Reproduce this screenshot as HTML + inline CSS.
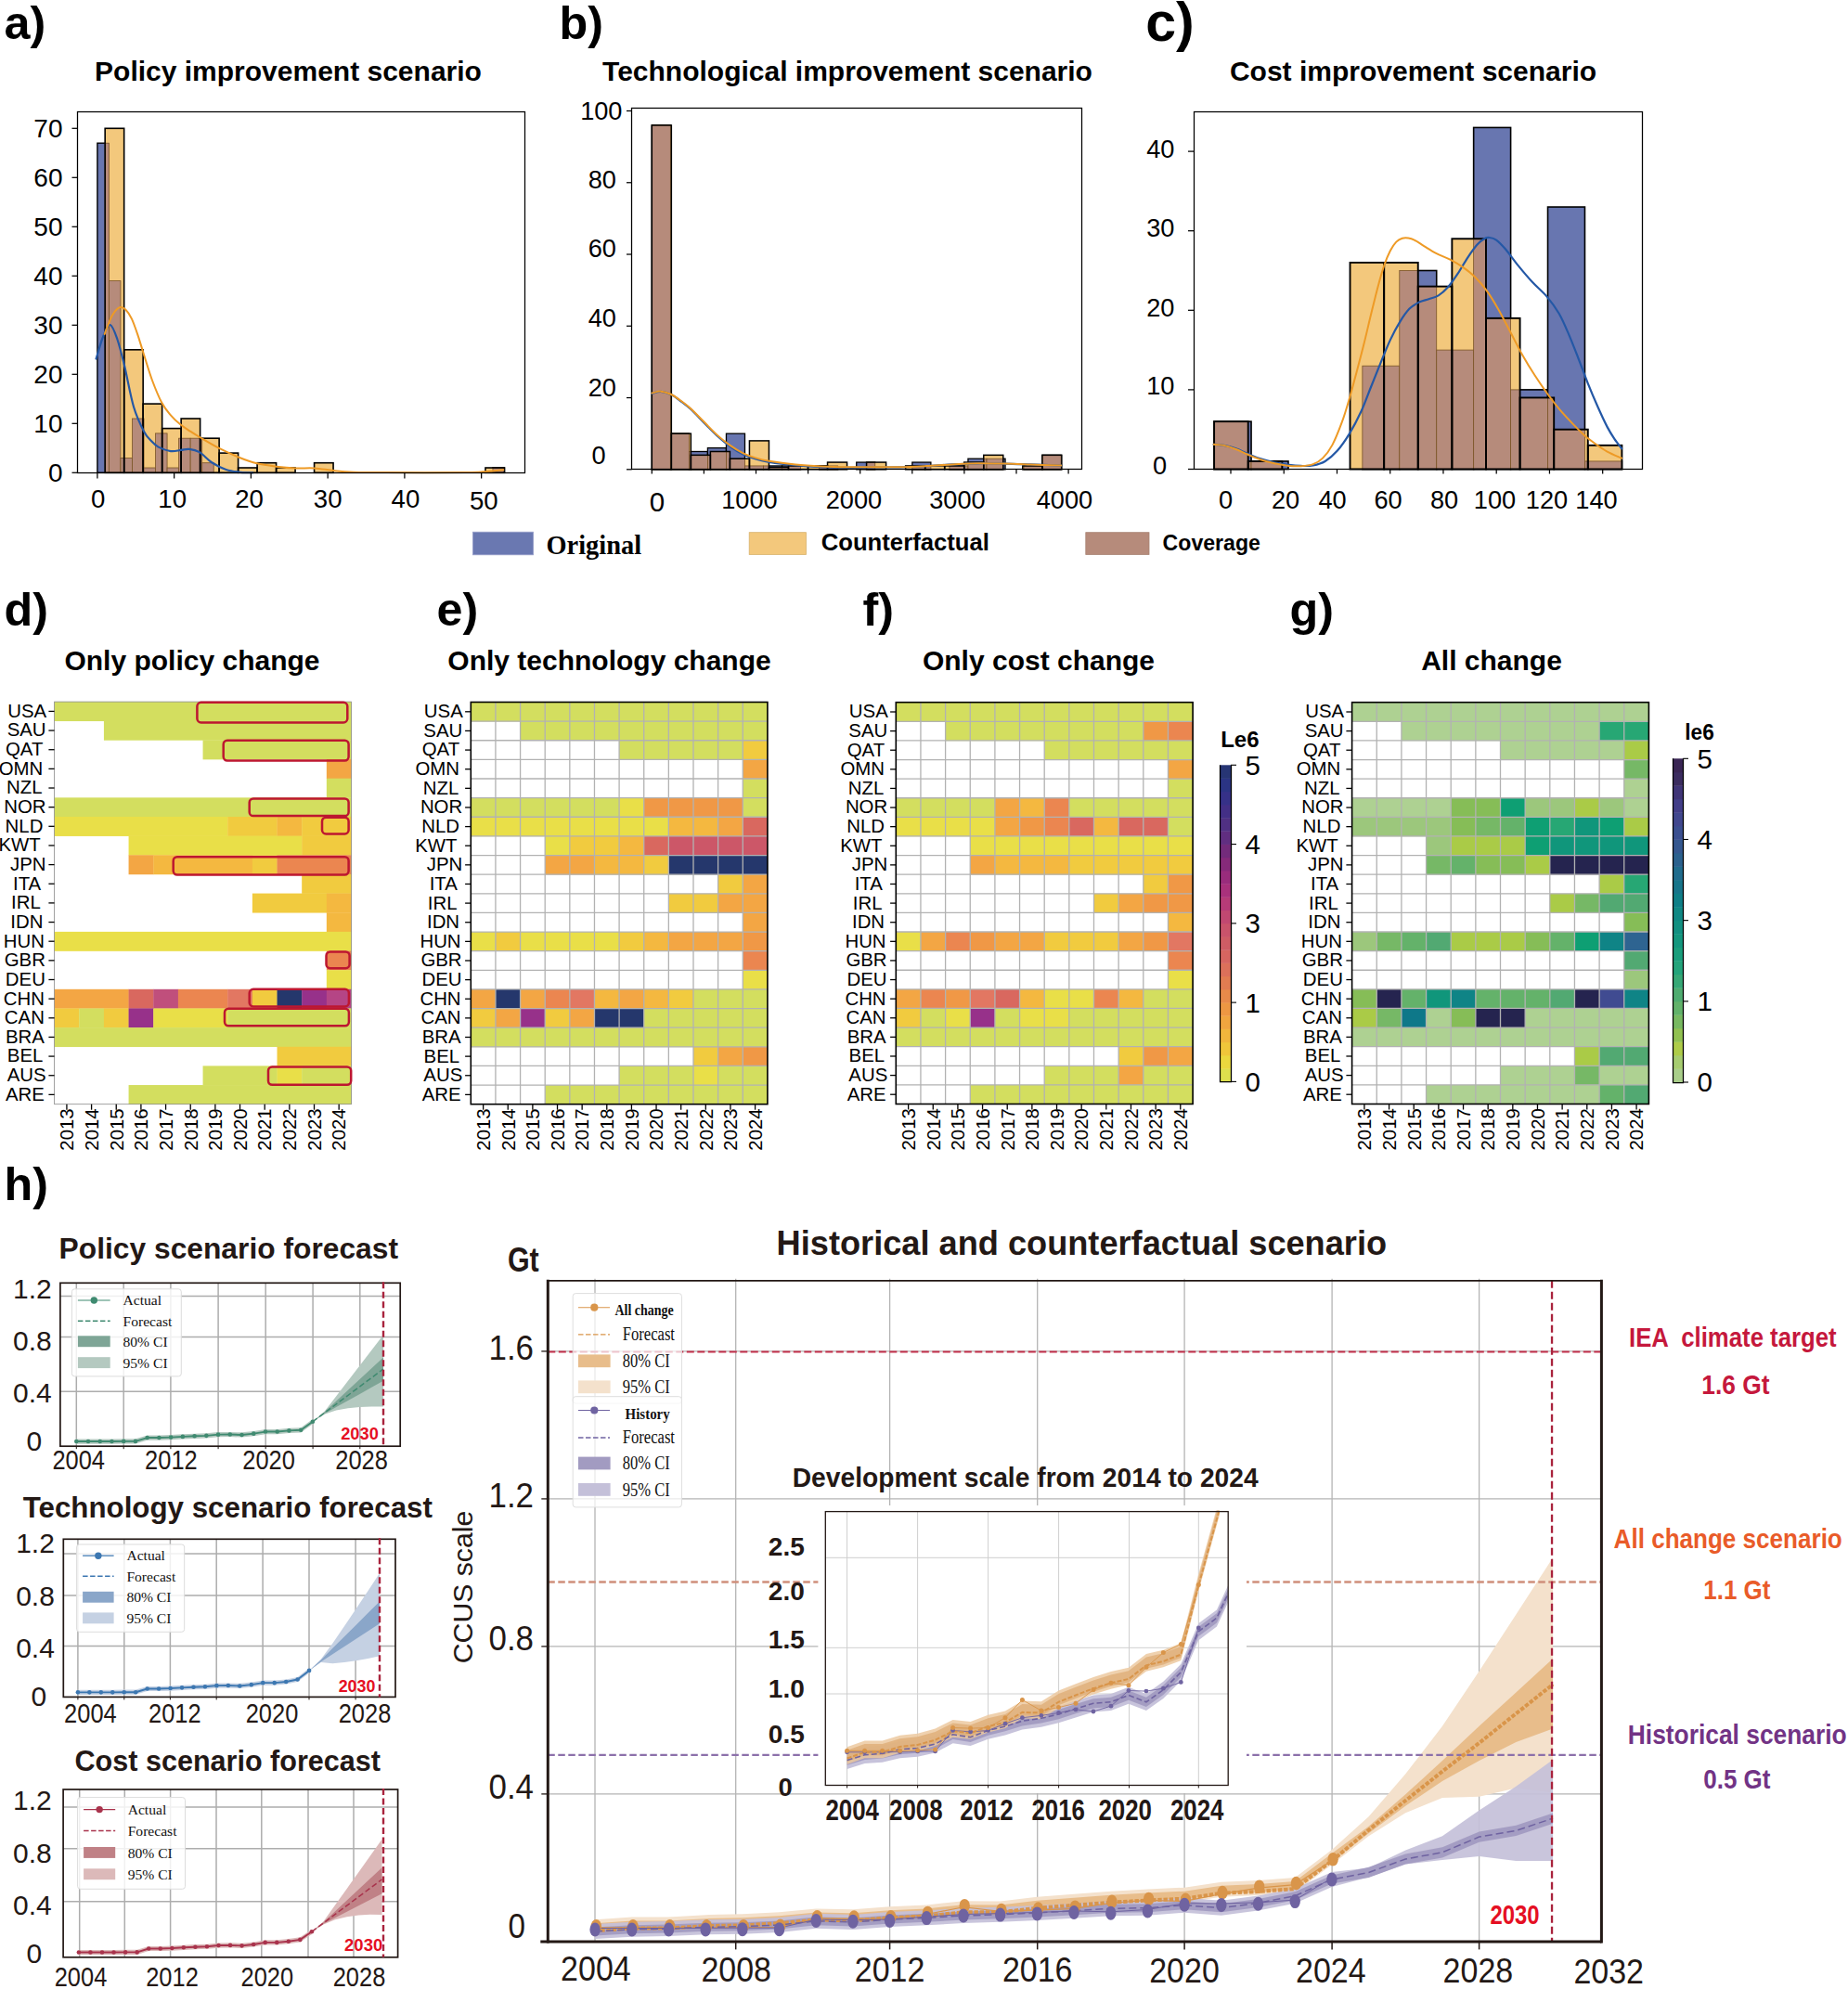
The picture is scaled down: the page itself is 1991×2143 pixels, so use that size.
<!DOCTYPE html>
<html lang="en"><head><meta charset="utf-8"><title>CCUS counterfactual scenarios</title>
<style>
html,body{margin:0;padding:0;background:#fff;}
body{width:1991px;height:2143px;overflow:hidden;}
svg{display:block;font-family:'Liberation Sans', Arial, Helvetica, sans-serif;}
</style></head><body>
<svg width="1991" height="2143" viewBox="0 0 1991 2143">
<rect width="1991" height="2143" fill="#fff"/>
<text x="4.6" y="41.5" font-size="50.3" font-weight="bold">a)</text>
<text x="602.6" y="41.5" font-size="50.3" font-weight="bold">b)</text>
<text x="1234.2" y="44.3" font-size="59" font-weight="bold">c)</text>
<text x="310.5" y="87" font-size="30" font-weight="bold" text-anchor="middle">Policy improvement scenario</text>
<text x="913" y="87" font-size="30" font-weight="bold" text-anchor="middle">Technological improvement scenario</text>
<text x="1522.5" y="87" font-size="30" font-weight="bold" text-anchor="middle">Cost improvement scenario</text>
<rect x="104.9" y="154.2" width="12.53" height="355.1" fill="#6876b0" stroke="#000" stroke-width="1.4"/>
<rect x="117.43" y="302.6" width="12.53" height="206.7" fill="#6876b0" stroke="#000" stroke-width="1.4"/>
<rect x="129.96" y="493.4" width="12.53" height="15.9" fill="#6876b0" stroke="#000" stroke-width="1.4"/>
<rect x="142.49" y="451" width="12.53" height="58.3" fill="#6876b0" stroke="#000" stroke-width="1.4"/>
<rect x="155.02" y="504" width="12.53" height="5.3" fill="#6876b0" stroke="#000" stroke-width="1.4"/>
<rect x="167.55" y="466.9" width="12.53" height="42.4" fill="#6876b0" stroke="#000" stroke-width="1.4"/>
<rect x="180.08" y="504" width="12.53" height="5.3" fill="#6876b0" stroke="#000" stroke-width="1.4"/>
<rect x="192.62" y="472.2" width="12.53" height="37.1" fill="#6876b0" stroke="#000" stroke-width="1.4"/>
<rect x="205.15" y="472.2" width="12.53" height="37.1" fill="#6876b0" stroke="#000" stroke-width="1.4"/>
<rect x="217.68" y="498.7" width="12.53" height="10.6" fill="#6876b0" stroke="#000" stroke-width="1.4"/>
<rect x="530.94" y="504" width="12.53" height="5.3" fill="#6876b0" stroke="#000" stroke-width="1.4"/>
<rect x="113.18" y="138.3" width="20.49" height="371" fill="#f3c87c"/>
<rect x="133.67" y="376.8" width="20.49" height="132.5" fill="#f3c87c"/>
<rect x="154.16" y="435.1" width="20.49" height="74.2" fill="#f3c87c"/>
<rect x="174.65" y="461.6" width="20.49" height="47.7" fill="#f3c87c"/>
<rect x="195.14" y="451" width="20.49" height="58.3" fill="#f3c87c"/>
<rect x="215.63" y="472.2" width="20.49" height="37.1" fill="#f3c87c"/>
<rect x="236.12" y="488.1" width="20.49" height="21.2" fill="#f3c87c"/>
<rect x="256.61" y="504" width="20.49" height="5.3" fill="#f3c87c"/>
<rect x="277.1" y="498.7" width="20.49" height="10.6" fill="#f3c87c"/>
<rect x="297.59" y="504" width="20.49" height="5.3" fill="#f3c87c"/>
<rect x="338.57" y="498.7" width="20.49" height="10.6" fill="#f3c87c"/>
<rect x="522.98" y="504" width="20.49" height="5.3" fill="#f3c87c"/>
<rect x="113.18" y="154.2" width="4.26" height="355.1" fill="#b68b7b" stroke="#7a5426" stroke-width="0.8"/>
<rect x="117.43" y="302.6" width="12.53" height="206.7" fill="#b68b7b" stroke="#7a5426" stroke-width="0.8"/>
<rect x="129.96" y="493.4" width="3.7" height="15.9" fill="#b68b7b" stroke="#7a5426" stroke-width="0.8"/>
<rect x="133.67" y="493.4" width="8.83" height="15.9" fill="#b68b7b" stroke="#7a5426" stroke-width="0.8"/>
<rect x="142.49" y="451" width="11.66" height="58.3" fill="#b68b7b" stroke="#7a5426" stroke-width="0.8"/>
<rect x="154.16" y="451" width="0.87" height="58.3" fill="#b68b7b" stroke="#7a5426" stroke-width="0.8"/>
<rect x="155.02" y="504" width="12.53" height="5.3" fill="#b68b7b" stroke="#7a5426" stroke-width="0.8"/>
<rect x="167.55" y="466.9" width="7.09" height="42.4" fill="#b68b7b" stroke="#7a5426" stroke-width="0.8"/>
<rect x="174.65" y="466.9" width="5.44" height="42.4" fill="#b68b7b" stroke="#7a5426" stroke-width="0.8"/>
<rect x="180.08" y="504" width="12.53" height="5.3" fill="#b68b7b" stroke="#7a5426" stroke-width="0.8"/>
<rect x="192.62" y="472.2" width="2.52" height="37.1" fill="#b68b7b" stroke="#7a5426" stroke-width="0.8"/>
<rect x="195.14" y="472.2" width="10.01" height="37.1" fill="#b68b7b" stroke="#7a5426" stroke-width="0.8"/>
<rect x="205.15" y="472.2" width="10.48" height="37.1" fill="#b68b7b" stroke="#7a5426" stroke-width="0.8"/>
<rect x="215.63" y="472.2" width="2.05" height="37.1" fill="#b68b7b" stroke="#7a5426" stroke-width="0.8"/>
<rect x="217.68" y="498.7" width="12.53" height="10.6" fill="#b68b7b" stroke="#7a5426" stroke-width="0.8"/>
<rect x="530.94" y="504" width="12.53" height="5.3" fill="#b68b7b" stroke="#7a5426" stroke-width="0.8"/>
<rect x="113.18" y="138.3" width="20.49" height="371" fill="none" stroke="#000" stroke-width="1.6"/>
<rect x="133.67" y="376.8" width="20.49" height="132.5" fill="none" stroke="#000" stroke-width="1.6"/>
<rect x="154.16" y="435.1" width="20.49" height="74.2" fill="none" stroke="#000" stroke-width="1.6"/>
<rect x="174.65" y="461.6" width="20.49" height="47.7" fill="none" stroke="#000" stroke-width="1.6"/>
<rect x="195.14" y="451" width="20.49" height="58.3" fill="none" stroke="#000" stroke-width="1.6"/>
<rect x="215.63" y="472.2" width="20.49" height="37.1" fill="none" stroke="#000" stroke-width="1.6"/>
<rect x="236.12" y="488.1" width="20.49" height="21.2" fill="none" stroke="#000" stroke-width="1.6"/>
<rect x="256.61" y="504" width="20.49" height="5.3" fill="none" stroke="#000" stroke-width="1.6"/>
<rect x="277.1" y="498.7" width="20.49" height="10.6" fill="none" stroke="#000" stroke-width="1.6"/>
<rect x="297.59" y="504" width="20.49" height="5.3" fill="none" stroke="#000" stroke-width="1.6"/>
<rect x="338.57" y="498.7" width="20.49" height="10.6" fill="none" stroke="#000" stroke-width="1.6"/>
<rect x="522.98" y="504" width="20.49" height="5.3" fill="none" stroke="#000" stroke-width="1.6"/>
<path d="M103.58 386.5 C104.8 382.63 108.38 369.36 110.88 363.27 C113.39 357.19 116.05 349.63 118.63 350 C121.21 350.37 123.79 358.11 126.37 365.49 C128.95 372.86 131.17 382.08 134.12 394.25 C137.06 406.42 140.57 426.7 144.07 438.5 C147.57 450.29 152 458.96 155.13 465.04 C158.27 471.13 160.29 472.23 162.88 475 C165.46 477.77 167.12 479.79 170.62 481.64 C174.12 483.48 179.84 485.51 183.89 486.06 C187.95 486.62 191.64 485.32 194.96 484.96 C198.27 484.59 200.49 483.48 203.81 483.85 C207.12 484.22 210.81 484.77 214.87 487.17 C218.92 489.56 223.35 495.1 228.14 498.23 C232.94 501.36 238.47 504.2 243.63 505.97 C248.79 507.74 254.32 508.3 259.12 508.85 C263.91 509.4 270.18 509.22 272.39 509.29" fill="none" stroke="#2458a6" stroke-width="2.2" stroke-linecap="round" />
<path d="M112.65 359.96 C114.02 356.64 118.11 344.84 120.84 340.04 C123.57 335.25 126.63 332.3 129.03 331.19 C131.42 330.09 133.08 331.38 135.22 333.41 C137.36 335.44 139.65 338.75 141.86 343.36 C144.07 347.97 146.36 354.79 148.5 361.06 C150.63 367.33 152.11 372.86 154.69 380.97 C157.27 389.09 160.7 400.88 163.98 409.73 C167.26 418.58 171.06 427.8 174.38 434.07 C177.7 440.34 180.58 443.47 183.89 447.35 C187.21 451.22 190.79 454.42 194.29 457.3 C197.79 460.18 201.37 462.28 204.91 464.6 C208.45 466.92 210.26 468.14 215.53 471.24 C220.8 474.34 229.58 479.61 236.55 483.19 C243.52 486.76 250.63 490.01 257.35 492.7 C264.06 495.39 270.07 497.68 276.81 499.34 C283.56 501 290.9 501.81 297.83 502.65 C304.76 503.5 311.59 504.13 318.41 504.42 C325.23 504.72 331.87 503.98 338.76 504.42 C345.66 504.87 352.77 506.38 359.78 507.08 C366.78 507.78 371.76 508.3 380.8 508.63 C389.83 508.96 393.7 509 413.98 509.07 C434.26 509.14 484.04 509.26 502.48 509.07 C520.91 508.89 517.96 508.44 524.6 507.96 C531.24 507.49 539.35 506.49 542.3 506.19" fill="none" stroke="#ee9a25" stroke-width="2" stroke-linecap="round" />
<rect x="83.5" y="120.5" width="482" height="389" fill="none" stroke="#000" stroke-width="1.25"/>
<line x1="104.9" y1="509.3" x2="104.9" y2="515.5" stroke="#000" stroke-width="1.25"/>
<text x="105.6" y="547.3" font-size="27.6" text-anchor="middle">0</text>
<line x1="187.65" y1="509.3" x2="187.65" y2="515.5" stroke="#000" stroke-width="1.25"/>
<text x="185.65" y="547.3" font-size="27.6" text-anchor="middle">10</text>
<line x1="270.4" y1="509.3" x2="270.4" y2="515.5" stroke="#000" stroke-width="1.25"/>
<text x="268.6" y="547.3" font-size="27.6" text-anchor="middle">20</text>
<line x1="353.15" y1="509.3" x2="353.15" y2="515.5" stroke="#000" stroke-width="1.25"/>
<text x="353.15" y="547.3" font-size="27.6" text-anchor="middle">30</text>
<line x1="435.9" y1="509.3" x2="435.9" y2="515.5" stroke="#000" stroke-width="1.25"/>
<text x="436.9" y="547.3" font-size="27.6" text-anchor="middle">40</text>
<line x1="518.65" y1="509.3" x2="518.65" y2="515.5" stroke="#000" stroke-width="1.25"/>
<text x="521.25" y="549.3" font-size="27.6" text-anchor="middle">50</text>
<line x1="77.5" y1="509.3" x2="83.5" y2="509.3" stroke="#000" stroke-width="1.25"/>
<text x="67.5" y="518.9" font-size="28" text-anchor="end">0</text>
<line x1="77.5" y1="456.3" x2="83.5" y2="456.3" stroke="#000" stroke-width="1.25"/>
<text x="67.5" y="465.9" font-size="28" text-anchor="end">10</text>
<line x1="77.5" y1="403.3" x2="83.5" y2="403.3" stroke="#000" stroke-width="1.25"/>
<text x="67.5" y="412.9" font-size="28" text-anchor="end">20</text>
<line x1="77.5" y1="350.3" x2="83.5" y2="350.3" stroke="#000" stroke-width="1.25"/>
<text x="67.5" y="359.9" font-size="28" text-anchor="end">30</text>
<line x1="77.5" y1="297.3" x2="83.5" y2="297.3" stroke="#000" stroke-width="1.25"/>
<text x="67.5" y="306.9" font-size="28" text-anchor="end">40</text>
<line x1="77.5" y1="244.3" x2="83.5" y2="244.3" stroke="#000" stroke-width="1.25"/>
<text x="67.5" y="253.9" font-size="28" text-anchor="end">50</text>
<line x1="77.5" y1="191.3" x2="83.5" y2="191.3" stroke="#000" stroke-width="1.25"/>
<text x="67.5" y="200.9" font-size="28" text-anchor="end">60</text>
<line x1="77.5" y1="138.3" x2="83.5" y2="138.3" stroke="#000" stroke-width="1.25"/>
<text x="67.5" y="147.9" font-size="28" text-anchor="end">70</text>
<rect x="702.3" y="134.95" width="20.04" height="370.85" fill="#6876b0" stroke="#000" stroke-width="1.3"/>
<rect x="722.34" y="467.17" width="20.04" height="38.63" fill="#6876b0" stroke="#000" stroke-width="1.3"/>
<rect x="742.38" y="486.49" width="20.04" height="19.31" fill="#6876b0" stroke="#000" stroke-width="1.3"/>
<rect x="762.42" y="482.62" width="20.04" height="23.18" fill="#6876b0" stroke="#000" stroke-width="1.3"/>
<rect x="782.46" y="467.17" width="20.04" height="38.63" fill="#6876b0" stroke="#000" stroke-width="1.3"/>
<rect x="802.49" y="501.94" width="20.04" height="3.86" fill="#6876b0" stroke="#000" stroke-width="1.3"/>
<rect x="822.53" y="501.94" width="20.04" height="3.86" fill="#6876b0" stroke="#000" stroke-width="1.3"/>
<rect x="842.57" y="501.94" width="20.04" height="3.86" fill="#6876b0" stroke="#000" stroke-width="1.3"/>
<rect x="882.65" y="501.94" width="20.04" height="3.86" fill="#6876b0" stroke="#000" stroke-width="1.3"/>
<rect x="922.73" y="498.07" width="20.04" height="7.73" fill="#6876b0" stroke="#000" stroke-width="1.3"/>
<rect x="982.84" y="498.07" width="20.04" height="7.73" fill="#6876b0" stroke="#000" stroke-width="1.3"/>
<rect x="1022.92" y="501.94" width="20.04" height="3.86" fill="#6876b0" stroke="#000" stroke-width="1.3"/>
<rect x="1042.96" y="494.21" width="20.04" height="11.59" fill="#6876b0" stroke="#000" stroke-width="1.3"/>
<rect x="1063" y="494.21" width="20.04" height="11.59" fill="#6876b0" stroke="#000" stroke-width="1.3"/>
<rect x="1103.08" y="501.94" width="20.04" height="3.86" fill="#6876b0" stroke="#000" stroke-width="1.3"/>
<rect x="1123.12" y="490.35" width="20.04" height="15.45" fill="#6876b0" stroke="#000" stroke-width="1.3"/>
<rect x="702.3" y="134.95" width="21.03" height="370.85" fill="#f3c87c"/>
<rect x="723.33" y="467.17" width="21.03" height="38.63" fill="#f3c87c"/>
<rect x="744.35" y="490.35" width="21.03" height="15.45" fill="#f3c87c"/>
<rect x="765.38" y="486.49" width="21.03" height="19.31" fill="#f3c87c"/>
<rect x="786.41" y="494.21" width="21.03" height="11.59" fill="#f3c87c"/>
<rect x="807.43" y="474.9" width="21.03" height="30.9" fill="#f3c87c"/>
<rect x="828.46" y="503.48" width="21.03" height="2.32" fill="#f3c87c"/>
<rect x="849.48" y="501.94" width="21.03" height="3.86" fill="#f3c87c"/>
<rect x="870.51" y="501.94" width="21.03" height="3.86" fill="#f3c87c"/>
<rect x="891.54" y="498.07" width="21.03" height="7.73" fill="#f3c87c"/>
<rect x="933.59" y="498.07" width="21.03" height="7.73" fill="#f3c87c"/>
<rect x="975.64" y="501.94" width="21.03" height="3.86" fill="#f3c87c"/>
<rect x="996.67" y="501.94" width="21.03" height="3.86" fill="#f3c87c"/>
<rect x="1017.69" y="501.94" width="21.03" height="3.86" fill="#f3c87c"/>
<rect x="1038.72" y="498.07" width="21.03" height="7.73" fill="#f3c87c"/>
<rect x="1059.75" y="490.35" width="21.03" height="15.45" fill="#f3c87c"/>
<rect x="1101.8" y="501.94" width="21.03" height="3.86" fill="#f3c87c"/>
<rect x="1122.83" y="490.35" width="21.03" height="15.45" fill="#f3c87c"/>
<rect x="702.3" y="134.95" width="20.04" height="370.85" fill="#b68b7b" stroke="#7a5426" stroke-width="0.8"/>
<rect x="722.34" y="467.17" width="0.99" height="38.63" fill="#b68b7b" stroke="#7a5426" stroke-width="0.8"/>
<rect x="723.33" y="467.17" width="19.05" height="38.63" fill="#b68b7b" stroke="#7a5426" stroke-width="0.8"/>
<rect x="742.38" y="486.49" width="1.97" height="19.31" fill="#b68b7b" stroke="#7a5426" stroke-width="0.8"/>
<rect x="744.35" y="490.35" width="18.06" height="15.45" fill="#b68b7b" stroke="#7a5426" stroke-width="0.8"/>
<rect x="762.42" y="490.35" width="2.96" height="15.45" fill="#b68b7b" stroke="#7a5426" stroke-width="0.8"/>
<rect x="765.38" y="486.49" width="17.08" height="19.31" fill="#b68b7b" stroke="#7a5426" stroke-width="0.8"/>
<rect x="782.46" y="486.49" width="3.95" height="19.31" fill="#b68b7b" stroke="#7a5426" stroke-width="0.8"/>
<rect x="786.41" y="494.21" width="16.09" height="11.59" fill="#b68b7b" stroke="#7a5426" stroke-width="0.8"/>
<rect x="802.49" y="501.94" width="4.94" height="3.86" fill="#b68b7b" stroke="#7a5426" stroke-width="0.8"/>
<rect x="807.43" y="501.94" width="15.1" height="3.86" fill="#b68b7b" stroke="#7a5426" stroke-width="0.8"/>
<rect x="822.53" y="501.94" width="5.92" height="3.86" fill="#b68b7b" stroke="#7a5426" stroke-width="0.8"/>
<rect x="828.46" y="503.48" width="14.11" height="2.32" fill="#b68b7b" stroke="#7a5426" stroke-width="0.8"/>
<rect x="842.57" y="503.48" width="6.91" height="2.32" fill="#b68b7b" stroke="#7a5426" stroke-width="0.8"/>
<rect x="849.48" y="501.94" width="13.13" height="3.86" fill="#b68b7b" stroke="#7a5426" stroke-width="0.8"/>
<rect x="882.65" y="501.94" width="8.89" height="3.86" fill="#b68b7b" stroke="#7a5426" stroke-width="0.8"/>
<rect x="891.54" y="501.94" width="11.15" height="3.86" fill="#b68b7b" stroke="#7a5426" stroke-width="0.8"/>
<rect x="933.59" y="498.07" width="9.18" height="7.73" fill="#b68b7b" stroke="#7a5426" stroke-width="0.8"/>
<rect x="982.84" y="501.94" width="13.82" height="3.86" fill="#b68b7b" stroke="#7a5426" stroke-width="0.8"/>
<rect x="996.67" y="501.94" width="6.22" height="3.86" fill="#b68b7b" stroke="#7a5426" stroke-width="0.8"/>
<rect x="1022.92" y="501.94" width="15.8" height="3.86" fill="#b68b7b" stroke="#7a5426" stroke-width="0.8"/>
<rect x="1038.72" y="501.94" width="4.24" height="3.86" fill="#b68b7b" stroke="#7a5426" stroke-width="0.8"/>
<rect x="1042.96" y="498.07" width="16.79" height="7.73" fill="#b68b7b" stroke="#7a5426" stroke-width="0.8"/>
<rect x="1059.75" y="494.21" width="3.25" height="11.59" fill="#b68b7b" stroke="#7a5426" stroke-width="0.8"/>
<rect x="1063" y="494.21" width="17.77" height="11.59" fill="#b68b7b" stroke="#7a5426" stroke-width="0.8"/>
<rect x="1103.08" y="501.94" width="19.75" height="3.86" fill="#b68b7b" stroke="#7a5426" stroke-width="0.8"/>
<rect x="1122.83" y="501.94" width="0.29" height="3.86" fill="#b68b7b" stroke="#7a5426" stroke-width="0.8"/>
<rect x="1123.12" y="490.35" width="20.04" height="15.45" fill="#b68b7b" stroke="#7a5426" stroke-width="0.8"/>
<rect x="702.3" y="134.95" width="21.03" height="370.85" fill="none" stroke="#000" stroke-width="1.5"/>
<rect x="723.33" y="467.17" width="21.03" height="38.63" fill="none" stroke="#000" stroke-width="1.5"/>
<rect x="744.35" y="490.35" width="21.03" height="15.45" fill="none" stroke="#000" stroke-width="1.5"/>
<rect x="765.38" y="486.49" width="21.03" height="19.31" fill="none" stroke="#000" stroke-width="1.5"/>
<rect x="786.41" y="494.21" width="21.03" height="11.59" fill="none" stroke="#000" stroke-width="1.5"/>
<rect x="807.43" y="474.9" width="21.03" height="30.9" fill="none" stroke="#000" stroke-width="1.5"/>
<rect x="828.46" y="503.48" width="21.03" height="2.32" fill="none" stroke="#000" stroke-width="1.5"/>
<rect x="849.48" y="501.94" width="21.03" height="3.86" fill="none" stroke="#000" stroke-width="1.5"/>
<rect x="870.51" y="501.94" width="21.03" height="3.86" fill="none" stroke="#000" stroke-width="1.5"/>
<rect x="891.54" y="498.07" width="21.03" height="7.73" fill="none" stroke="#000" stroke-width="1.5"/>
<rect x="933.59" y="498.07" width="21.03" height="7.73" fill="none" stroke="#000" stroke-width="1.5"/>
<rect x="975.64" y="501.94" width="21.03" height="3.86" fill="none" stroke="#000" stroke-width="1.5"/>
<rect x="996.67" y="501.94" width="21.03" height="3.86" fill="none" stroke="#000" stroke-width="1.5"/>
<rect x="1017.69" y="501.94" width="21.03" height="3.86" fill="none" stroke="#000" stroke-width="1.5"/>
<rect x="1038.72" y="498.07" width="21.03" height="7.73" fill="none" stroke="#000" stroke-width="1.5"/>
<rect x="1059.75" y="490.35" width="21.03" height="15.45" fill="none" stroke="#000" stroke-width="1.5"/>
<rect x="1101.8" y="501.94" width="21.03" height="3.86" fill="none" stroke="#000" stroke-width="1.5"/>
<rect x="1122.83" y="490.35" width="21.03" height="15.45" fill="none" stroke="#000" stroke-width="1.5"/>
<path d="M702.21 423.89 C703.85 423.57 708.54 421.69 712.05 421.92 C715.57 422.16 719.79 423.61 723.31 425.3 C726.83 426.99 729.64 429.43 733.16 432.05 C736.67 434.68 740.19 437.17 744.41 441.06 C748.63 444.95 753.79 450.67 758.48 455.41 C763.17 460.14 767.86 465.21 772.55 469.48 C777.24 473.74 781.93 477.68 786.62 481.01 C791.31 484.34 796.09 487.2 800.69 489.45 C805.28 491.71 809.5 493.11 814.19 494.52 C818.88 495.93 821.7 496.77 828.82 497.9 C835.95 499.02 847.58 500.38 856.96 501.27 C866.34 502.16 875.72 502.82 885.1 503.24 C894.48 503.66 903.86 503.76 913.24 503.8 C922.61 503.85 931.99 503.59 941.37 503.52 C950.75 503.45 960.13 503.59 969.51 503.38 C978.89 503.17 988.27 502.75 997.65 502.26 C1007.03 501.76 1016.41 500.92 1025.79 500.43 C1035.16 499.94 1044.54 499.44 1053.92 499.3 C1063.3 499.16 1072.68 499.4 1082.06 499.58 C1091.44 499.77 1100.02 500.1 1110.2 500.43 C1120.37 500.76 1137.63 501.37 1143.12 501.55" fill="none" stroke="#2458a6" stroke-width="2.2" stroke-linecap="round" />
<path d="M702.21 423.61 C703.85 423.28 708.54 421.41 712.05 421.64 C715.57 421.88 719.79 423.38 723.31 425.02 C726.83 426.66 729.64 428.91 733.16 431.49 C736.67 434.07 740.19 436.65 744.41 440.5 C748.63 444.34 753.79 449.87 758.48 454.56 C763.17 459.25 767.86 464.41 772.55 468.63 C777.24 472.85 781.93 476.6 786.62 479.89 C791.31 483.17 796.09 486.08 800.69 488.33 C805.28 490.58 809.5 491.99 814.19 493.39 C818.88 494.8 821.7 495.6 828.82 496.77 C835.95 497.94 847.58 499.49 856.96 500.43 C866.34 501.37 875.72 501.93 885.1 502.4 C894.48 502.87 903.86 503.1 913.24 503.24 C922.61 503.38 931.99 503.24 941.37 503.24 C950.75 503.24 960.13 503.43 969.51 503.24 C978.89 503.05 988.27 502.58 997.65 502.12 C1007.03 501.65 1016.41 500.9 1025.79 500.43 C1035.16 499.96 1044.54 499.44 1053.92 499.3 C1063.3 499.16 1072.68 499.4 1082.06 499.58 C1091.44 499.77 1100.02 500.1 1110.2 500.43 C1120.37 500.76 1137.63 501.37 1143.12 501.55" fill="none" stroke="#ee9a25" stroke-width="2" stroke-linecap="round" />
<rect x="680.5" y="116.5" width="485" height="389" fill="none" stroke="#000" stroke-width="1.25"/>
<line x1="702.3" y1="505.8" x2="702.3" y2="510.5" stroke="#000" stroke-width="1.25"/>
<line x1="758.4" y1="505.8" x2="758.4" y2="510.5" stroke="#000" stroke-width="1.25"/>
<line x1="814.5" y1="505.8" x2="814.5" y2="510.5" stroke="#000" stroke-width="1.25"/>
<line x1="870.6" y1="505.8" x2="870.6" y2="510.5" stroke="#000" stroke-width="1.25"/>
<line x1="926.7" y1="505.8" x2="926.7" y2="510.5" stroke="#000" stroke-width="1.25"/>
<line x1="982.8" y1="505.8" x2="982.8" y2="510.5" stroke="#000" stroke-width="1.25"/>
<line x1="1038.9" y1="505.8" x2="1038.9" y2="510.5" stroke="#000" stroke-width="1.25"/>
<line x1="1095" y1="505.8" x2="1095" y2="510.5" stroke="#000" stroke-width="1.25"/>
<line x1="1151.1" y1="505.8" x2="1151.1" y2="510.5" stroke="#000" stroke-width="1.25"/>
<text x="708" y="551" font-size="29.5" text-anchor="middle">0</text>
<text x="807.5" y="547.5" font-size="27.2" text-anchor="middle">1000</text>
<text x="920" y="547.5" font-size="27.2" text-anchor="middle">2000</text>
<text x="1031.5" y="547.5" font-size="27.2" text-anchor="middle">3000</text>
<text x="1147" y="547.5" font-size="27.2" text-anchor="middle">4000</text>
<line x1="675" y1="119.5" x2="680.5" y2="119.5" stroke="#000" stroke-width="1.25"/>
<text x="670.5" y="128.8" font-size="27.2" text-anchor="end">100</text>
<line x1="675" y1="196.76" x2="680.5" y2="196.76" stroke="#000" stroke-width="1.25"/>
<text x="664" y="202.9" font-size="27.2" text-anchor="end">80</text>
<line x1="675" y1="274.02" x2="680.5" y2="274.02" stroke="#000" stroke-width="1.25"/>
<text x="664" y="276.6" font-size="27.2" text-anchor="end">60</text>
<line x1="675" y1="351.28" x2="680.5" y2="351.28" stroke="#000" stroke-width="1.25"/>
<text x="664" y="352.1" font-size="27.2" text-anchor="end">40</text>
<line x1="675" y1="428.54" x2="680.5" y2="428.54" stroke="#000" stroke-width="1.25"/>
<text x="664" y="426.8" font-size="27.2" text-anchor="end">20</text>
<line x1="675" y1="505.8" x2="680.5" y2="505.8" stroke="#000" stroke-width="1.25"/>
<text x="652.5" y="499.9" font-size="27.2" text-anchor="end">0</text>
<rect x="1308.1" y="454.14" width="39.94" height="51.36" fill="#6876b0" stroke="#000" stroke-width="1.6"/>
<rect x="1348.04" y="496.94" width="39.94" height="8.56" fill="#6876b0" stroke="#000" stroke-width="1.6"/>
<rect x="1467.85" y="394.22" width="39.94" height="111.28" fill="#6876b0" stroke="#000" stroke-width="1.6"/>
<rect x="1507.78" y="291.5" width="39.94" height="214" fill="#6876b0" stroke="#000" stroke-width="1.6"/>
<rect x="1547.72" y="377.1" width="39.94" height="128.4" fill="#6876b0" stroke="#000" stroke-width="1.6"/>
<rect x="1587.65" y="137.42" width="39.94" height="368.08" fill="#6876b0" stroke="#000" stroke-width="1.6"/>
<rect x="1627.59" y="419.9" width="39.94" height="85.6" fill="#6876b0" stroke="#000" stroke-width="1.6"/>
<rect x="1667.53" y="223.02" width="39.94" height="282.48" fill="#6876b0" stroke="#000" stroke-width="1.6"/>
<rect x="1707.46" y="496.94" width="39.94" height="8.56" fill="#6876b0" stroke="#000" stroke-width="1.6"/>
<rect x="1308.1" y="454.14" width="36.61" height="51.36" fill="#f3c87c"/>
<rect x="1344.71" y="496.94" width="36.61" height="8.56" fill="#f3c87c"/>
<rect x="1454.53" y="282.94" width="36.61" height="222.56" fill="#f3c87c"/>
<rect x="1491.14" y="282.94" width="36.61" height="222.56" fill="#f3c87c"/>
<rect x="1527.75" y="308.62" width="36.61" height="196.88" fill="#f3c87c"/>
<rect x="1564.36" y="257.26" width="36.61" height="248.24" fill="#f3c87c"/>
<rect x="1600.97" y="342.86" width="36.61" height="162.64" fill="#f3c87c"/>
<rect x="1637.58" y="428.46" width="36.61" height="77.04" fill="#f3c87c"/>
<rect x="1674.18" y="462.7" width="36.61" height="42.8" fill="#f3c87c"/>
<rect x="1710.79" y="479.82" width="36.61" height="25.68" fill="#f3c87c"/>
<rect x="1308.1" y="454.14" width="36.61" height="51.36" fill="#b68b7b" stroke="#7a5426" stroke-width="0.8"/>
<rect x="1344.71" y="496.94" width="3.33" height="8.56" fill="#b68b7b" stroke="#7a5426" stroke-width="0.8"/>
<rect x="1348.04" y="496.94" width="33.28" height="8.56" fill="#b68b7b" stroke="#7a5426" stroke-width="0.8"/>
<rect x="1467.85" y="394.22" width="23.3" height="111.28" fill="#b68b7b" stroke="#7a5426" stroke-width="0.8"/>
<rect x="1491.14" y="394.22" width="16.64" height="111.28" fill="#b68b7b" stroke="#7a5426" stroke-width="0.8"/>
<rect x="1507.78" y="291.5" width="19.97" height="214" fill="#b68b7b" stroke="#7a5426" stroke-width="0.8"/>
<rect x="1527.75" y="308.62" width="19.97" height="196.88" fill="#b68b7b" stroke="#7a5426" stroke-width="0.8"/>
<rect x="1547.72" y="377.1" width="16.64" height="128.4" fill="#b68b7b" stroke="#7a5426" stroke-width="0.8"/>
<rect x="1564.36" y="377.1" width="23.3" height="128.4" fill="#b68b7b" stroke="#7a5426" stroke-width="0.8"/>
<rect x="1587.65" y="257.26" width="13.31" height="248.24" fill="#b68b7b" stroke="#7a5426" stroke-width="0.8"/>
<rect x="1600.97" y="342.86" width="26.62" height="162.64" fill="#b68b7b" stroke="#7a5426" stroke-width="0.8"/>
<rect x="1627.59" y="419.9" width="9.98" height="85.6" fill="#b68b7b" stroke="#7a5426" stroke-width="0.8"/>
<rect x="1637.57" y="428.46" width="29.95" height="77.04" fill="#b68b7b" stroke="#7a5426" stroke-width="0.8"/>
<rect x="1667.53" y="428.46" width="6.66" height="77.04" fill="#b68b7b" stroke="#7a5426" stroke-width="0.8"/>
<rect x="1674.18" y="462.7" width="33.28" height="42.8" fill="#b68b7b" stroke="#7a5426" stroke-width="0.8"/>
<rect x="1707.46" y="496.94" width="3.33" height="8.56" fill="#b68b7b" stroke="#7a5426" stroke-width="0.8"/>
<rect x="1710.79" y="496.94" width="36.61" height="8.56" fill="#b68b7b" stroke="#7a5426" stroke-width="0.8"/>
<rect x="1308.1" y="454.14" width="36.61" height="51.36" fill="none" stroke="#000" stroke-width="1.9"/>
<rect x="1344.71" y="496.94" width="36.61" height="8.56" fill="none" stroke="#000" stroke-width="1.9"/>
<rect x="1454.53" y="282.94" width="36.61" height="222.56" fill="none" stroke="#000" stroke-width="1.9"/>
<rect x="1491.14" y="282.94" width="36.61" height="222.56" fill="none" stroke="#000" stroke-width="1.9"/>
<rect x="1527.75" y="308.62" width="36.61" height="196.88" fill="none" stroke="#000" stroke-width="1.9"/>
<rect x="1564.36" y="257.26" width="36.61" height="248.24" fill="none" stroke="#000" stroke-width="1.9"/>
<rect x="1600.97" y="342.86" width="36.61" height="162.64" fill="none" stroke="#000" stroke-width="1.9"/>
<rect x="1637.58" y="428.46" width="36.61" height="77.04" fill="none" stroke="#000" stroke-width="1.9"/>
<rect x="1674.18" y="462.7" width="36.61" height="42.8" fill="none" stroke="#000" stroke-width="1.9"/>
<rect x="1710.79" y="479.82" width="36.61" height="25.68" fill="none" stroke="#000" stroke-width="1.9"/>
<path d="M1307.66 478.83 C1309.48 479 1314.59 479.13 1318.57 479.87 C1322.55 480.61 1327.23 481.73 1331.56 483.25 C1335.89 484.76 1340.22 487.14 1344.55 488.96 C1348.87 490.78 1352.77 492.6 1357.53 494.16 C1362.29 495.71 1367.92 497.19 1373.12 498.31 C1378.31 499.44 1383.94 500.3 1388.7 500.91 C1393.46 501.52 1397.36 501.86 1401.69 501.95 C1406.02 502.03 1410.35 502.25 1414.68 501.43 C1419 500.61 1423.33 499.61 1427.66 497.01 C1431.99 494.42 1436.32 490.74 1440.65 485.84 C1444.98 480.95 1449.31 474.81 1453.64 467.66 C1457.97 460.52 1462.73 451.43 1466.62 442.99 C1470.52 434.55 1473.55 425.67 1477.01 417.01 C1480.48 408.35 1483.94 399.48 1487.4 391.04 C1490.87 382.6 1494.33 373.72 1497.79 366.36 C1501.26 359 1504.72 352.51 1508.18 346.88 C1511.65 341.26 1515.11 336.15 1518.57 332.6 C1522.03 329.05 1525.5 327.32 1528.96 325.58 C1532.42 323.85 1535.89 323.42 1539.35 322.21 C1542.81 321 1546.28 320.48 1549.74 318.31 C1553.2 316.15 1556.67 313.12 1560.13 309.22 C1563.59 305.32 1567.06 300.13 1570.52 294.94 C1573.98 289.74 1577.45 283.25 1580.91 278.05 C1584.37 272.86 1588.27 267.23 1591.3 263.77 C1594.33 260.3 1596.84 258.57 1599.09 257.27 C1601.34 255.97 1602.64 255.76 1604.81 255.97 C1606.97 256.19 1609.13 256.41 1612.08 258.57 C1615.02 260.74 1618.57 264.42 1622.47 268.96 C1626.36 273.51 1630.69 280 1635.45 285.84 C1640.22 291.69 1645.84 298.4 1651.04 304.03 C1656.23 309.65 1661.86 313.98 1666.62 319.61 C1671.39 325.24 1675.71 331.08 1679.61 337.79 C1683.51 344.5 1686.54 351.86 1690 359.87 C1693.46 367.88 1696.93 376.97 1700.39 385.84 C1703.85 394.72 1707.32 404.46 1710.78 413.12 C1714.24 421.77 1717.71 430 1721.17 437.79 C1724.63 445.58 1728.53 454.03 1731.56 459.87 C1734.59 465.71 1736.75 468.96 1739.35 472.86 C1741.95 476.75 1745.84 481.52 1747.14 483.25" fill="none" stroke="#2458a6" stroke-width="2.2" stroke-linecap="round" />
<path d="M1307.66 478.83 C1309.48 479 1314.59 479 1318.57 479.87 C1322.55 480.74 1327.23 482.38 1331.56 484.03 C1335.89 485.67 1340.22 487.92 1344.55 489.74 C1348.87 491.56 1352.77 493.33 1357.53 494.94 C1362.29 496.54 1367.92 498.18 1373.12 499.35 C1378.31 500.52 1383.94 501.47 1388.7 501.95 C1393.46 502.42 1397.36 502.51 1401.69 502.21 C1406.02 501.9 1410.78 501.56 1414.68 500.13 C1418.57 498.7 1421.6 497.1 1425.06 493.64 C1428.53 490.17 1431.99 485.84 1435.45 479.35 C1438.92 472.86 1442.81 462.9 1445.84 454.68 C1448.87 446.45 1451.04 438.87 1453.64 430 C1456.23 421.13 1458.83 411.17 1461.43 401.43 C1464.03 391.69 1466.62 381.95 1469.22 371.56 C1471.82 361.17 1474.42 349.7 1477.01 339.09 C1479.61 328.48 1482.42 316.8 1484.81 307.92 C1487.19 299.05 1489.13 292.12 1491.3 285.84 C1493.46 279.57 1495.63 274.46 1497.79 270.26 C1499.96 266.06 1502.12 262.9 1504.29 260.65 C1506.45 258.4 1508.61 257.45 1510.78 256.75 C1512.94 256.06 1515.11 256.19 1517.27 256.49 C1519.44 256.8 1520.95 257.14 1523.77 258.57 C1526.58 260 1530.26 262.68 1534.16 265.06 C1538.05 267.45 1542.38 270.39 1547.14 272.86 C1551.9 275.32 1557.97 277.4 1562.73 279.87 C1567.49 282.34 1571.39 284.63 1575.71 287.66 C1580.04 290.69 1584.37 293.81 1588.7 298.05 C1593.03 302.29 1597.36 307.14 1601.69 313.12 C1606.02 319.09 1610.35 326.32 1614.68 333.9 C1619 341.47 1623.33 350.35 1627.66 358.57 C1631.99 366.8 1636.32 375.58 1640.65 383.25 C1644.98 390.91 1649.31 397.84 1653.64 404.55 C1657.97 411.26 1662.29 417.53 1666.62 423.51 C1670.95 429.48 1675.28 435.19 1679.61 440.39 C1683.94 445.58 1688.27 450.13 1692.6 454.68 C1696.93 459.22 1701.26 463.77 1705.58 467.66 C1709.91 471.56 1714.24 474.89 1718.57 478.05 C1722.9 481.21 1726.8 484.03 1731.56 486.62 C1736.32 489.22 1744.55 492.47 1747.14 493.64" fill="none" stroke="#ee9a25" stroke-width="2" stroke-linecap="round" />
<rect x="1286.5" y="120.5" width="483" height="385" fill="none" stroke="#000" stroke-width="1.25"/>
<line x1="1326" y1="505.5" x2="1326" y2="510.5" stroke="#000" stroke-width="1.25"/>
<text x="1320.5" y="547.5" font-size="27.2" text-anchor="middle">0</text>
<line x1="1383.24" y1="505.5" x2="1383.24" y2="510.5" stroke="#000" stroke-width="1.25"/>
<text x="1385" y="547.5" font-size="27.2" text-anchor="middle">20</text>
<line x1="1440.48" y1="505.5" x2="1440.48" y2="510.5" stroke="#000" stroke-width="1.25"/>
<text x="1435.5" y="547.5" font-size="27.2" text-anchor="middle">40</text>
<line x1="1497.72" y1="505.5" x2="1497.72" y2="510.5" stroke="#000" stroke-width="1.25"/>
<text x="1495.5" y="547.5" font-size="27.2" text-anchor="middle">60</text>
<line x1="1554.96" y1="505.5" x2="1554.96" y2="510.5" stroke="#000" stroke-width="1.25"/>
<text x="1556" y="547.5" font-size="27.2" text-anchor="middle">80</text>
<line x1="1612.2" y1="505.5" x2="1612.2" y2="510.5" stroke="#000" stroke-width="1.25"/>
<text x="1610.5" y="547.5" font-size="27.2" text-anchor="middle">100</text>
<line x1="1669.44" y1="505.5" x2="1669.44" y2="510.5" stroke="#000" stroke-width="1.25"/>
<text x="1666.5" y="547.5" font-size="27.2" text-anchor="middle">120</text>
<line x1="1726.68" y1="505.5" x2="1726.68" y2="510.5" stroke="#000" stroke-width="1.25"/>
<text x="1720" y="547.5" font-size="27.2" text-anchor="middle">140</text>
<line x1="1280" y1="163.1" x2="1286" y2="163.1" stroke="#000" stroke-width="1.25"/>
<text x="1265.5" y="169.7" font-size="27.2" text-anchor="end">40</text>
<line x1="1280" y1="248.7" x2="1286" y2="248.7" stroke="#000" stroke-width="1.25"/>
<text x="1265.5" y="255.1" font-size="27.2" text-anchor="end">30</text>
<line x1="1280" y1="334.3" x2="1286" y2="334.3" stroke="#000" stroke-width="1.25"/>
<text x="1265.5" y="341" font-size="27.2" text-anchor="end">20</text>
<line x1="1280" y1="419.9" x2="1286" y2="419.9" stroke="#000" stroke-width="1.25"/>
<text x="1265.5" y="424.8" font-size="27.2" text-anchor="end">10</text>
<line x1="1280" y1="505.5" x2="1286" y2="505.5" stroke="#000" stroke-width="1.25"/>
<text x="1257" y="510.9" font-size="27.2" text-anchor="end">0</text>
<rect x="509.4" y="573.2" width="65.2" height="24.6" fill="#6a78b1" stroke="#959dc8" stroke-width="0.8"/>
<text x="588.5" y="597" font-size="28.4" font-weight="bold" font-family='"Liberation Serif", "Times New Roman", serif'>Original</text>
<rect x="807.2" y="573.7" width="61.3" height="23.8" fill="#f3c87c" stroke="#d8b26e" stroke-width="0.8"/>
<text x="884.7" y="592.8" font-size="25.7" font-weight="bold">Counterfactual</text>
<rect x="1169.8" y="573.7" width="68.2" height="23.8" fill="#b68b7b" stroke="#a88374" stroke-width="0.8"/>
<text x="1252.6" y="592.6" font-size="23.1" font-weight="bold">Coverage</text>
<text x="4.6" y="674" font-size="50.3" font-weight="bold">d)</text>
<text x="470.6" y="674" font-size="50.3" font-weight="bold">e)</text>
<text x="929.6" y="674" font-size="50.3" font-weight="bold">f)</text>
<text x="1389.6" y="674" font-size="50.3" font-weight="bold">g)</text>
<text x="207" y="722.3" font-size="30" font-weight="bold" text-anchor="middle">Only policy change</text>
<text x="656.5" y="722.3" font-size="30" font-weight="bold" text-anchor="middle">Only technology change</text>
<text x="1119" y="722.3" font-size="30" font-weight="bold" text-anchor="middle">Only cost change</text>
<text x="1607" y="722.3" font-size="30" font-weight="bold" text-anchor="middle">All change</text>
<rect x="58.6" y="756.1" width="320.2" height="20.95" fill="#d3de5f"/>
<rect x="111.92" y="776.75" width="266.88" height="20.95" fill="#d3de5f"/>
<rect x="218.55" y="797.4" width="160.25" height="20.95" fill="#d3de5f"/>
<rect x="351.84" y="818.04" width="26.96" height="20.95" fill="#f3a644"/>
<rect x="351.84" y="838.69" width="26.96" height="20.95" fill="#d3de5f"/>
<rect x="58.6" y="859.34" width="320.2" height="20.95" fill="#d3de5f"/>
<rect x="58.6" y="879.99" width="186.91" height="20.95" fill="#e9df48"/>
<rect x="245.21" y="879.99" width="53.62" height="20.95" fill="#f1cb3f"/>
<rect x="298.52" y="879.99" width="26.96" height="20.95" fill="#f4b840"/>
<rect x="325.18" y="879.99" width="53.62" height="20.95" fill="#f1cb3f"/>
<rect x="138.57" y="900.63" width="186.91" height="20.95" fill="#e9df48"/>
<rect x="325.18" y="900.63" width="53.62" height="20.95" fill="#f1cb3f"/>
<rect x="138.57" y="921.28" width="26.96" height="20.95" fill="#f3a644"/>
<rect x="165.23" y="921.28" width="106.93" height="20.95" fill="#f4b840"/>
<rect x="271.87" y="921.28" width="26.96" height="20.95" fill="#f1cb3f"/>
<rect x="298.52" y="921.28" width="80.27" height="20.95" fill="#eb8650"/>
<rect x="325.18" y="941.93" width="53.62" height="20.95" fill="#f1cb3f"/>
<rect x="271.87" y="962.58" width="80.27" height="20.95" fill="#f1cb3f"/>
<rect x="351.84" y="962.58" width="26.96" height="20.95" fill="#f4b840"/>
<rect x="351.84" y="983.22" width="26.96" height="20.95" fill="#f4b840"/>
<rect x="58.6" y="1003.87" width="320.2" height="20.95" fill="#e9df48"/>
<rect x="351.84" y="1024.52" width="26.96" height="20.95" fill="#eb8650"/>
<rect x="351.84" y="1045.17" width="26.96" height="20.95" fill="#e9df48"/>
<rect x="58.6" y="1065.81" width="80.27" height="20.95" fill="#f3a644"/>
<rect x="138.57" y="1065.81" width="26.96" height="20.95" fill="#d9685f"/>
<rect x="165.23" y="1065.81" width="26.96" height="20.95" fill="#c04f7c"/>
<rect x="191.89" y="1065.81" width="53.62" height="20.95" fill="#eb8650"/>
<rect x="245.21" y="1065.81" width="26.96" height="20.95" fill="#e27762"/>
<rect x="271.87" y="1065.81" width="26.96" height="20.95" fill="#f1cb3f"/>
<rect x="298.52" y="1065.81" width="26.96" height="20.95" fill="#25376c"/>
<rect x="325.18" y="1065.81" width="26.96" height="20.95" fill="#97318a"/>
<rect x="351.84" y="1065.81" width="26.96" height="20.95" fill="#b54585"/>
<rect x="58.6" y="1086.46" width="26.96" height="20.95" fill="#f1cb3f"/>
<rect x="85.26" y="1086.46" width="26.96" height="20.95" fill="#d3de5f"/>
<rect x="111.92" y="1086.46" width="26.96" height="20.95" fill="#f1cb3f"/>
<rect x="138.57" y="1086.46" width="26.96" height="20.95" fill="#97318a"/>
<rect x="165.23" y="1086.46" width="80.27" height="20.95" fill="#e9df48"/>
<rect x="245.21" y="1086.46" width="133.59" height="20.95" fill="#d3de5f"/>
<rect x="58.6" y="1107.11" width="320.2" height="20.95" fill="#d3de5f"/>
<rect x="298.52" y="1127.76" width="80.27" height="20.95" fill="#f1cb3f"/>
<rect x="218.55" y="1148.4" width="80.27" height="20.95" fill="#d3de5f"/>
<rect x="298.52" y="1148.4" width="26.96" height="20.95" fill="#e9df48"/>
<rect x="325.18" y="1148.4" width="53.62" height="20.95" fill="#d3de5f"/>
<rect x="138.57" y="1169.05" width="240.22" height="20.95" fill="#d3de5f"/>
<rect x="58.6" y="756.1" width="319.9" height="433.6" fill="none" stroke="#8a8a8a" stroke-width="0.8"/>
<line x1="52.4" y1="766.42" x2="58.6" y2="766.42" stroke="#000" stroke-width="1.3"/>
<text x="50.1" y="772.82" font-size="20.4" text-anchor="end">USA</text>
<line x1="52.4" y1="787.07" x2="58.6" y2="787.07" stroke="#000" stroke-width="1.3"/>
<text x="49.6" y="793.47" font-size="20.4" text-anchor="end">SAU</text>
<line x1="52.4" y1="807.72" x2="58.6" y2="807.72" stroke="#000" stroke-width="1.3"/>
<text x="46.4" y="814.12" font-size="20.4" text-anchor="end">QAT</text>
<line x1="52.4" y1="828.37" x2="58.6" y2="828.37" stroke="#000" stroke-width="1.3"/>
<text x="46.3" y="834.77" font-size="20.4" text-anchor="end">OMN</text>
<line x1="52.4" y1="849.01" x2="58.6" y2="849.01" stroke="#000" stroke-width="1.3"/>
<text x="45.6" y="855.41" font-size="20.4" text-anchor="end">NZL</text>
<line x1="52.4" y1="869.66" x2="58.6" y2="869.66" stroke="#000" stroke-width="1.3"/>
<text x="49.5" y="876.06" font-size="20.4" text-anchor="end">NOR</text>
<line x1="52.4" y1="890.31" x2="58.6" y2="890.31" stroke="#000" stroke-width="1.3"/>
<text x="46.4" y="896.71" font-size="20.4" text-anchor="end">NLD</text>
<line x1="52.4" y1="910.96" x2="58.6" y2="910.96" stroke="#000" stroke-width="1.3"/>
<text x="43.8" y="917.36" font-size="20.4" text-anchor="end">KWT</text>
<line x1="52.4" y1="931.6" x2="58.6" y2="931.6" stroke="#000" stroke-width="1.3"/>
<text x="49.6" y="938" font-size="20.4" text-anchor="end">JPN</text>
<line x1="52.4" y1="952.25" x2="58.6" y2="952.25" stroke="#000" stroke-width="1.3"/>
<text x="44.2" y="958.65" font-size="20.4" text-anchor="end">ITA</text>
<line x1="52.4" y1="972.9" x2="58.6" y2="972.9" stroke="#000" stroke-width="1.3"/>
<text x="43.8" y="979.3" font-size="20.4" text-anchor="end">IRL</text>
<line x1="52.4" y1="993.55" x2="58.6" y2="993.55" stroke="#000" stroke-width="1.3"/>
<text x="46.4" y="999.95" font-size="20.4" text-anchor="end">IDN</text>
<line x1="52.4" y1="1014.2" x2="58.6" y2="1014.2" stroke="#000" stroke-width="1.3"/>
<text x="47.9" y="1020.6" font-size="20.4" text-anchor="end">HUN</text>
<line x1="52.4" y1="1034.84" x2="58.6" y2="1034.84" stroke="#000" stroke-width="1.3"/>
<text x="48.9" y="1041.24" font-size="20.4" text-anchor="end">GBR</text>
<line x1="52.4" y1="1055.49" x2="58.6" y2="1055.49" stroke="#000" stroke-width="1.3"/>
<text x="48.9" y="1061.89" font-size="20.4" text-anchor="end">DEU</text>
<line x1="52.4" y1="1076.14" x2="58.6" y2="1076.14" stroke="#000" stroke-width="1.3"/>
<text x="47.9" y="1082.54" font-size="20.4" text-anchor="end">CHN</text>
<line x1="52.4" y1="1096.79" x2="58.6" y2="1096.79" stroke="#000" stroke-width="1.3"/>
<text x="47.9" y="1103.19" font-size="20.4" text-anchor="end">CAN</text>
<line x1="52.4" y1="1117.43" x2="58.6" y2="1117.43" stroke="#000" stroke-width="1.3"/>
<text x="47.9" y="1123.83" font-size="20.4" text-anchor="end">BRA</text>
<line x1="52.4" y1="1138.08" x2="58.6" y2="1138.08" stroke="#000" stroke-width="1.3"/>
<text x="46.4" y="1144.48" font-size="20.4" text-anchor="end">BEL</text>
<line x1="52.4" y1="1158.73" x2="58.6" y2="1158.73" stroke="#000" stroke-width="1.3"/>
<text x="49.6" y="1165.13" font-size="20.4" text-anchor="end">AUS</text>
<line x1="52.4" y1="1179.38" x2="58.6" y2="1179.38" stroke="#000" stroke-width="1.3"/>
<text x="47.9" y="1185.78" font-size="20.4" text-anchor="end">ARE</text>
<line x1="71.93" y1="1189.7" x2="71.93" y2="1195.7" stroke="#000" stroke-width="1.3"/>
<text x="79.23" y="1239.7" font-size="20.4" transform="rotate(-90 79.23 1239.7)">2013</text>
<line x1="98.59" y1="1189.7" x2="98.59" y2="1195.7" stroke="#000" stroke-width="1.3"/>
<text x="105.89" y="1239.7" font-size="20.4" transform="rotate(-90 105.89 1239.7)">2014</text>
<line x1="125.25" y1="1189.7" x2="125.25" y2="1195.7" stroke="#000" stroke-width="1.3"/>
<text x="132.55" y="1239.7" font-size="20.4" transform="rotate(-90 132.55 1239.7)">2015</text>
<line x1="151.9" y1="1189.7" x2="151.9" y2="1195.7" stroke="#000" stroke-width="1.3"/>
<text x="159.2" y="1239.7" font-size="20.4" transform="rotate(-90 159.2 1239.7)">2016</text>
<line x1="178.56" y1="1189.7" x2="178.56" y2="1195.7" stroke="#000" stroke-width="1.3"/>
<text x="185.86" y="1239.7" font-size="20.4" transform="rotate(-90 185.86 1239.7)">2017</text>
<line x1="205.22" y1="1189.7" x2="205.22" y2="1195.7" stroke="#000" stroke-width="1.3"/>
<text x="212.52" y="1239.7" font-size="20.4" transform="rotate(-90 212.52 1239.7)">2018</text>
<line x1="231.88" y1="1189.7" x2="231.88" y2="1195.7" stroke="#000" stroke-width="1.3"/>
<text x="239.18" y="1239.7" font-size="20.4" transform="rotate(-90 239.18 1239.7)">2019</text>
<line x1="258.54" y1="1189.7" x2="258.54" y2="1195.7" stroke="#000" stroke-width="1.3"/>
<text x="265.84" y="1239.7" font-size="20.4" transform="rotate(-90 265.84 1239.7)">2020</text>
<line x1="285.2" y1="1189.7" x2="285.2" y2="1195.7" stroke="#000" stroke-width="1.3"/>
<text x="292.5" y="1239.7" font-size="20.4" transform="rotate(-90 292.5 1239.7)">2021</text>
<line x1="311.85" y1="1189.7" x2="311.85" y2="1195.7" stroke="#000" stroke-width="1.3"/>
<text x="319.15" y="1239.7" font-size="20.4" transform="rotate(-90 319.15 1239.7)">2022</text>
<line x1="338.51" y1="1189.7" x2="338.51" y2="1195.7" stroke="#000" stroke-width="1.3"/>
<text x="345.81" y="1239.7" font-size="20.4" transform="rotate(-90 345.81 1239.7)">2023</text>
<line x1="365.17" y1="1189.7" x2="365.17" y2="1195.7" stroke="#000" stroke-width="1.3"/>
<text x="372.47" y="1239.7" font-size="20.4" transform="rotate(-90 372.47 1239.7)">2024</text>
<rect x="212.4" y="756.8" width="161.9" height="21.6" fill="none" stroke="#bd1730" stroke-width="2.5" rx="4.2"/>
<rect x="240.7" y="797.7" width="134.9" height="21.8" fill="none" stroke="#bd1730" stroke-width="2.5" rx="4.2"/>
<rect x="268.7" y="860.4" width="106.9" height="18.7" fill="none" stroke="#bd1730" stroke-width="2.5" rx="4.2"/>
<rect x="347" y="880.7" width="28.6" height="17.7" fill="none" stroke="#bd1730" stroke-width="2.5" rx="4.2"/>
<rect x="186.7" y="923.2" width="188.9" height="19.3" fill="none" stroke="#bd1730" stroke-width="2.5" rx="4.2"/>
<rect x="351.5" y="1025.5" width="25.1" height="17.7" fill="none" stroke="#bd1730" stroke-width="2.5" rx="4.2"/>
<rect x="268.7" y="1065.8" width="107.2" height="18.6" fill="none" stroke="#bd1730" stroke-width="2.5" rx="4.2"/>
<rect x="242" y="1086.7" width="133.9" height="18.6" fill="none" stroke="#bd1730" stroke-width="2.5" rx="4.2"/>
<rect x="289" y="1149.4" width="89.2" height="19.4" fill="none" stroke="#bd1730" stroke-width="2.5" rx="4.2"/>
<rect x="507.3" y="756.5" width="319.9" height="20.93" fill="#d3de5f"/>
<rect x="560.57" y="777.13" width="266.63" height="20.93" fill="#d3de5f"/>
<rect x="667.1" y="797.76" width="133.47" height="20.93" fill="#d3de5f"/>
<rect x="800.27" y="797.76" width="26.93" height="20.93" fill="#f1cb3f"/>
<rect x="800.27" y="818.39" width="26.93" height="20.93" fill="#f3a644"/>
<rect x="800.27" y="839.01" width="26.93" height="20.93" fill="#d3de5f"/>
<rect x="507.3" y="859.64" width="160.1" height="20.93" fill="#d3de5f"/>
<rect x="667.1" y="859.64" width="26.93" height="20.93" fill="#e9df48"/>
<rect x="693.73" y="859.64" width="106.83" height="20.93" fill="#f09846"/>
<rect x="800.27" y="859.64" width="26.93" height="20.93" fill="#d3de5f"/>
<rect x="507.3" y="880.27" width="213.37" height="20.93" fill="#e9df48"/>
<rect x="720.37" y="880.27" width="53.57" height="20.93" fill="#f4b840"/>
<rect x="773.63" y="880.27" width="26.93" height="20.93" fill="#f3a644"/>
<rect x="800.27" y="880.27" width="26.93" height="20.93" fill="#d9685f"/>
<rect x="587.2" y="900.9" width="26.93" height="20.93" fill="#e9df48"/>
<rect x="613.83" y="900.9" width="53.57" height="20.93" fill="#f1cb3f"/>
<rect x="667.1" y="900.9" width="26.93" height="20.93" fill="#f4b840"/>
<rect x="693.73" y="900.9" width="26.93" height="20.93" fill="#d9685f"/>
<rect x="720.37" y="900.9" width="106.83" height="20.93" fill="#cc5768"/>
<rect x="587.2" y="921.53" width="53.57" height="20.93" fill="#f3a644"/>
<rect x="640.47" y="921.53" width="53.57" height="20.93" fill="#f4b840"/>
<rect x="693.73" y="921.53" width="26.93" height="20.93" fill="#f1cb3f"/>
<rect x="720.37" y="921.53" width="106.83" height="20.93" fill="#25376c"/>
<rect x="773.63" y="942.16" width="26.93" height="20.93" fill="#f1cb3f"/>
<rect x="800.27" y="942.16" width="26.93" height="20.93" fill="#f3a644"/>
<rect x="720.37" y="962.79" width="53.57" height="20.93" fill="#f1cb3f"/>
<rect x="773.63" y="962.79" width="53.57" height="20.93" fill="#f3a644"/>
<rect x="800.27" y="983.41" width="26.93" height="20.93" fill="#f3a644"/>
<rect x="507.3" y="1004.04" width="26.93" height="20.93" fill="#e9df48"/>
<rect x="533.93" y="1004.04" width="26.93" height="20.93" fill="#f1cb3f"/>
<rect x="560.57" y="1004.04" width="106.83" height="20.93" fill="#e9df48"/>
<rect x="667.1" y="1004.04" width="26.93" height="20.93" fill="#f1cb3f"/>
<rect x="693.73" y="1004.04" width="26.93" height="20.93" fill="#f4b840"/>
<rect x="720.37" y="1004.04" width="80.2" height="20.93" fill="#f3a644"/>
<rect x="800.27" y="1004.04" width="26.93" height="20.93" fill="#f09846"/>
<rect x="800.27" y="1024.67" width="26.93" height="20.93" fill="#eb8650"/>
<rect x="800.27" y="1045.3" width="26.93" height="20.93" fill="#e9df48"/>
<rect x="507.3" y="1065.93" width="26.93" height="20.93" fill="#f3a644"/>
<rect x="533.93" y="1065.93" width="26.93" height="20.93" fill="#25376c"/>
<rect x="560.57" y="1065.93" width="26.93" height="20.93" fill="#f3a644"/>
<rect x="587.2" y="1065.93" width="26.93" height="20.93" fill="#eb8650"/>
<rect x="613.83" y="1065.93" width="26.93" height="20.93" fill="#e27762"/>
<rect x="640.47" y="1065.93" width="26.93" height="20.93" fill="#f4b840"/>
<rect x="667.1" y="1065.93" width="26.93" height="20.93" fill="#f3a644"/>
<rect x="693.73" y="1065.93" width="26.93" height="20.93" fill="#f4b840"/>
<rect x="720.37" y="1065.93" width="26.93" height="20.93" fill="#f1cb3f"/>
<rect x="747" y="1065.93" width="80.2" height="20.93" fill="#d3de5f"/>
<rect x="507.3" y="1086.56" width="26.93" height="20.93" fill="#f1cb3f"/>
<rect x="533.93" y="1086.56" width="26.93" height="20.93" fill="#f3a644"/>
<rect x="560.57" y="1086.56" width="26.93" height="20.93" fill="#97318a"/>
<rect x="587.2" y="1086.56" width="26.93" height="20.93" fill="#f1cb3f"/>
<rect x="613.83" y="1086.56" width="26.93" height="20.93" fill="#f3a644"/>
<rect x="640.47" y="1086.56" width="53.57" height="20.93" fill="#25376c"/>
<rect x="693.73" y="1086.56" width="133.47" height="20.93" fill="#d3de5f"/>
<rect x="507.3" y="1107.19" width="319.9" height="20.93" fill="#d3de5f"/>
<rect x="747" y="1127.81" width="26.93" height="20.93" fill="#f1cb3f"/>
<rect x="773.63" y="1127.81" width="26.93" height="20.93" fill="#f3a644"/>
<rect x="800.27" y="1127.81" width="26.93" height="20.93" fill="#f09846"/>
<rect x="667.1" y="1148.44" width="80.2" height="20.93" fill="#d3de5f"/>
<rect x="747" y="1148.44" width="26.93" height="20.93" fill="#e9df48"/>
<rect x="773.63" y="1148.44" width="53.57" height="20.93" fill="#d3de5f"/>
<rect x="587.2" y="1169.07" width="240" height="20.93" fill="#d3de5f"/>
<path d="M533.93 756.5V1189.7M560.57 756.5V1189.7M587.2 756.5V1189.7M613.83 756.5V1189.7M640.47 756.5V1189.7M667.1 756.5V1189.7M693.73 756.5V1189.7M720.37 756.5V1189.7M747 756.5V1189.7M773.63 756.5V1189.7M800.27 756.5V1189.7M507.3 777.13H826.9M507.3 797.76H826.9M507.3 818.39H826.9M507.3 839.01H826.9M507.3 859.64H826.9M507.3 880.27H826.9M507.3 900.9H826.9M507.3 921.53H826.9M507.3 942.16H826.9M507.3 962.79H826.9M507.3 983.41H826.9M507.3 1004.04H826.9M507.3 1024.67H826.9M507.3 1045.3H826.9M507.3 1065.93H826.9M507.3 1086.56H826.9M507.3 1107.19H826.9M507.3 1127.81H826.9M507.3 1148.44H826.9M507.3 1169.07H826.9" stroke="#b2b2b2" stroke-width="1.3" fill="none"/>
<rect x="507.3" y="756.5" width="319.6" height="433.2" fill="none" stroke="#000" stroke-width="1.6"/>
<line x1="501.1" y1="766.81" x2="507.3" y2="766.81" stroke="#000" stroke-width="1.3"/>
<text x="498.8" y="773.21" font-size="20.4" text-anchor="end">USA</text>
<line x1="501.1" y1="787.44" x2="507.3" y2="787.44" stroke="#000" stroke-width="1.3"/>
<text x="498.3" y="793.84" font-size="20.4" text-anchor="end">SAU</text>
<line x1="501.1" y1="808.07" x2="507.3" y2="808.07" stroke="#000" stroke-width="1.3"/>
<text x="495.1" y="814.47" font-size="20.4" text-anchor="end">QAT</text>
<line x1="501.1" y1="828.7" x2="507.3" y2="828.7" stroke="#000" stroke-width="1.3"/>
<text x="495" y="835.1" font-size="20.4" text-anchor="end">OMN</text>
<line x1="501.1" y1="849.33" x2="507.3" y2="849.33" stroke="#000" stroke-width="1.3"/>
<text x="494.3" y="855.73" font-size="20.4" text-anchor="end">NZL</text>
<line x1="501.1" y1="869.96" x2="507.3" y2="869.96" stroke="#000" stroke-width="1.3"/>
<text x="498.2" y="876.36" font-size="20.4" text-anchor="end">NOR</text>
<line x1="501.1" y1="890.59" x2="507.3" y2="890.59" stroke="#000" stroke-width="1.3"/>
<text x="495.1" y="896.99" font-size="20.4" text-anchor="end">NLD</text>
<line x1="501.1" y1="911.21" x2="507.3" y2="911.21" stroke="#000" stroke-width="1.3"/>
<text x="492.5" y="917.61" font-size="20.4" text-anchor="end">KWT</text>
<line x1="501.1" y1="931.84" x2="507.3" y2="931.84" stroke="#000" stroke-width="1.3"/>
<text x="498.3" y="938.24" font-size="20.4" text-anchor="end">JPN</text>
<line x1="501.1" y1="952.47" x2="507.3" y2="952.47" stroke="#000" stroke-width="1.3"/>
<text x="492.9" y="958.87" font-size="20.4" text-anchor="end">ITA</text>
<line x1="501.1" y1="973.1" x2="507.3" y2="973.1" stroke="#000" stroke-width="1.3"/>
<text x="492.5" y="979.5" font-size="20.4" text-anchor="end">IRL</text>
<line x1="501.1" y1="993.73" x2="507.3" y2="993.73" stroke="#000" stroke-width="1.3"/>
<text x="495.1" y="1000.13" font-size="20.4" text-anchor="end">IDN</text>
<line x1="501.1" y1="1014.36" x2="507.3" y2="1014.36" stroke="#000" stroke-width="1.3"/>
<text x="496.6" y="1020.76" font-size="20.4" text-anchor="end">HUN</text>
<line x1="501.1" y1="1034.99" x2="507.3" y2="1034.99" stroke="#000" stroke-width="1.3"/>
<text x="497.6" y="1041.39" font-size="20.4" text-anchor="end">GBR</text>
<line x1="501.1" y1="1055.61" x2="507.3" y2="1055.61" stroke="#000" stroke-width="1.3"/>
<text x="497.6" y="1062.01" font-size="20.4" text-anchor="end">DEU</text>
<line x1="501.1" y1="1076.24" x2="507.3" y2="1076.24" stroke="#000" stroke-width="1.3"/>
<text x="496.6" y="1082.64" font-size="20.4" text-anchor="end">CHN</text>
<line x1="501.1" y1="1096.87" x2="507.3" y2="1096.87" stroke="#000" stroke-width="1.3"/>
<text x="496.6" y="1103.27" font-size="20.4" text-anchor="end">CAN</text>
<line x1="501.1" y1="1117.5" x2="507.3" y2="1117.5" stroke="#000" stroke-width="1.3"/>
<text x="496.6" y="1123.9" font-size="20.4" text-anchor="end">BRA</text>
<line x1="501.1" y1="1138.13" x2="507.3" y2="1138.13" stroke="#000" stroke-width="1.3"/>
<text x="495.1" y="1144.53" font-size="20.4" text-anchor="end">BEL</text>
<line x1="501.1" y1="1158.76" x2="507.3" y2="1158.76" stroke="#000" stroke-width="1.3"/>
<text x="498.3" y="1165.16" font-size="20.4" text-anchor="end">AUS</text>
<line x1="501.1" y1="1179.39" x2="507.3" y2="1179.39" stroke="#000" stroke-width="1.3"/>
<text x="496.6" y="1185.79" font-size="20.4" text-anchor="end">ARE</text>
<line x1="520.62" y1="1189.7" x2="520.62" y2="1195.7" stroke="#000" stroke-width="1.3"/>
<text x="527.92" y="1239.7" font-size="20.4" transform="rotate(-90 527.92 1239.7)">2013</text>
<line x1="547.25" y1="1189.7" x2="547.25" y2="1195.7" stroke="#000" stroke-width="1.3"/>
<text x="554.55" y="1239.7" font-size="20.4" transform="rotate(-90 554.55 1239.7)">2014</text>
<line x1="573.88" y1="1189.7" x2="573.88" y2="1195.7" stroke="#000" stroke-width="1.3"/>
<text x="581.18" y="1239.7" font-size="20.4" transform="rotate(-90 581.18 1239.7)">2015</text>
<line x1="600.52" y1="1189.7" x2="600.52" y2="1195.7" stroke="#000" stroke-width="1.3"/>
<text x="607.82" y="1239.7" font-size="20.4" transform="rotate(-90 607.82 1239.7)">2016</text>
<line x1="627.15" y1="1189.7" x2="627.15" y2="1195.7" stroke="#000" stroke-width="1.3"/>
<text x="634.45" y="1239.7" font-size="20.4" transform="rotate(-90 634.45 1239.7)">2017</text>
<line x1="653.78" y1="1189.7" x2="653.78" y2="1195.7" stroke="#000" stroke-width="1.3"/>
<text x="661.08" y="1239.7" font-size="20.4" transform="rotate(-90 661.08 1239.7)">2018</text>
<line x1="680.42" y1="1189.7" x2="680.42" y2="1195.7" stroke="#000" stroke-width="1.3"/>
<text x="687.72" y="1239.7" font-size="20.4" transform="rotate(-90 687.72 1239.7)">2019</text>
<line x1="707.05" y1="1189.7" x2="707.05" y2="1195.7" stroke="#000" stroke-width="1.3"/>
<text x="714.35" y="1239.7" font-size="20.4" transform="rotate(-90 714.35 1239.7)">2020</text>
<line x1="733.68" y1="1189.7" x2="733.68" y2="1195.7" stroke="#000" stroke-width="1.3"/>
<text x="740.98" y="1239.7" font-size="20.4" transform="rotate(-90 740.98 1239.7)">2021</text>
<line x1="760.32" y1="1189.7" x2="760.32" y2="1195.7" stroke="#000" stroke-width="1.3"/>
<text x="767.62" y="1239.7" font-size="20.4" transform="rotate(-90 767.62 1239.7)">2022</text>
<line x1="786.95" y1="1189.7" x2="786.95" y2="1195.7" stroke="#000" stroke-width="1.3"/>
<text x="794.25" y="1239.7" font-size="20.4" transform="rotate(-90 794.25 1239.7)">2023</text>
<line x1="813.58" y1="1189.7" x2="813.58" y2="1195.7" stroke="#000" stroke-width="1.3"/>
<text x="820.88" y="1239.7" font-size="20.4" transform="rotate(-90 820.88 1239.7)">2024</text>
<rect x="965.3" y="756.7" width="320.1" height="20.91" fill="#d3de5f"/>
<rect x="1018.6" y="777.31" width="213.5" height="20.91" fill="#d3de5f"/>
<rect x="1231.8" y="777.31" width="26.95" height="20.91" fill="#f09846"/>
<rect x="1258.45" y="777.31" width="26.95" height="20.91" fill="#eb8650"/>
<rect x="1125.2" y="797.92" width="160.2" height="20.91" fill="#d3de5f"/>
<rect x="1258.45" y="818.53" width="26.95" height="20.91" fill="#f3a644"/>
<rect x="1258.45" y="839.14" width="26.95" height="20.91" fill="#d3de5f"/>
<rect x="965.3" y="859.75" width="106.9" height="20.91" fill="#d3de5f"/>
<rect x="1071.9" y="859.75" width="26.95" height="20.91" fill="#f3a644"/>
<rect x="1098.55" y="859.75" width="26.95" height="20.91" fill="#f4b840"/>
<rect x="1125.2" y="859.75" width="26.95" height="20.91" fill="#eb8650"/>
<rect x="1151.85" y="859.75" width="133.55" height="20.91" fill="#d3de5f"/>
<rect x="965.3" y="880.36" width="106.9" height="20.91" fill="#e9df48"/>
<rect x="1071.9" y="880.36" width="26.95" height="20.91" fill="#f3a644"/>
<rect x="1098.55" y="880.36" width="26.95" height="20.91" fill="#f09846"/>
<rect x="1125.2" y="880.36" width="26.95" height="20.91" fill="#eb8650"/>
<rect x="1151.85" y="880.36" width="26.95" height="20.91" fill="#d9685f"/>
<rect x="1178.5" y="880.36" width="26.95" height="20.91" fill="#f4b840"/>
<rect x="1205.15" y="880.36" width="53.6" height="20.91" fill="#d9685f"/>
<rect x="1258.45" y="880.36" width="26.95" height="20.91" fill="#d3de5f"/>
<rect x="1045.25" y="900.97" width="240.15" height="20.91" fill="#e9df48"/>
<rect x="1045.25" y="921.58" width="26.95" height="20.91" fill="#f3a644"/>
<rect x="1071.9" y="921.58" width="80.25" height="20.91" fill="#f4b840"/>
<rect x="1151.85" y="921.58" width="133.55" height="20.91" fill="#f1cb3f"/>
<rect x="1231.8" y="942.19" width="26.95" height="20.91" fill="#f1cb3f"/>
<rect x="1258.45" y="942.19" width="26.95" height="20.91" fill="#f09846"/>
<rect x="1178.5" y="962.8" width="26.95" height="20.91" fill="#f1cb3f"/>
<rect x="1205.15" y="962.8" width="26.95" height="20.91" fill="#f3a644"/>
<rect x="1231.8" y="962.8" width="53.6" height="20.91" fill="#f09846"/>
<rect x="1258.45" y="983.4" width="26.95" height="20.91" fill="#f4b840"/>
<rect x="965.3" y="1004.01" width="26.95" height="20.91" fill="#e9df48"/>
<rect x="991.95" y="1004.01" width="26.95" height="20.91" fill="#f3a644"/>
<rect x="1018.6" y="1004.01" width="26.95" height="20.91" fill="#eb8650"/>
<rect x="1045.25" y="1004.01" width="26.95" height="20.91" fill="#f09846"/>
<rect x="1071.9" y="1004.01" width="53.6" height="20.91" fill="#f3a644"/>
<rect x="1125.2" y="1004.01" width="80.25" height="20.91" fill="#f1cb3f"/>
<rect x="1205.15" y="1004.01" width="26.95" height="20.91" fill="#f3a644"/>
<rect x="1231.8" y="1004.01" width="26.95" height="20.91" fill="#f09846"/>
<rect x="1258.45" y="1004.01" width="26.95" height="20.91" fill="#e27762"/>
<rect x="1258.45" y="1024.62" width="26.95" height="20.91" fill="#eb8650"/>
<rect x="1258.45" y="1045.23" width="26.95" height="20.91" fill="#e9df48"/>
<rect x="965.3" y="1065.84" width="26.95" height="20.91" fill="#f3a644"/>
<rect x="991.95" y="1065.84" width="26.95" height="20.91" fill="#eb8650"/>
<rect x="1018.6" y="1065.84" width="26.95" height="20.91" fill="#f09846"/>
<rect x="1045.25" y="1065.84" width="26.95" height="20.91" fill="#e27762"/>
<rect x="1071.9" y="1065.84" width="26.95" height="20.91" fill="#d9685f"/>
<rect x="1098.55" y="1065.84" width="26.95" height="20.91" fill="#f4b840"/>
<rect x="1125.2" y="1065.84" width="53.6" height="20.91" fill="#e9df48"/>
<rect x="1178.5" y="1065.84" width="26.95" height="20.91" fill="#eb8650"/>
<rect x="1205.15" y="1065.84" width="26.95" height="20.91" fill="#f4b840"/>
<rect x="1231.8" y="1065.84" width="53.6" height="20.91" fill="#d3de5f"/>
<rect x="965.3" y="1086.45" width="26.95" height="20.91" fill="#f1cb3f"/>
<rect x="991.95" y="1086.45" width="26.95" height="20.91" fill="#d3de5f"/>
<rect x="1018.6" y="1086.45" width="26.95" height="20.91" fill="#e9df48"/>
<rect x="1045.25" y="1086.45" width="26.95" height="20.91" fill="#97318a"/>
<rect x="1071.9" y="1086.45" width="26.95" height="20.91" fill="#d3de5f"/>
<rect x="1098.55" y="1086.45" width="53.6" height="20.91" fill="#e9df48"/>
<rect x="1151.85" y="1086.45" width="133.55" height="20.91" fill="#d3de5f"/>
<rect x="965.3" y="1107.06" width="320.1" height="20.91" fill="#d3de5f"/>
<rect x="1205.15" y="1127.67" width="26.95" height="20.91" fill="#f1cb3f"/>
<rect x="1231.8" y="1127.67" width="26.95" height="20.91" fill="#f09846"/>
<rect x="1258.45" y="1127.67" width="26.95" height="20.91" fill="#f3a644"/>
<rect x="1125.2" y="1148.28" width="80.25" height="20.91" fill="#d3de5f"/>
<rect x="1205.15" y="1148.28" width="26.95" height="20.91" fill="#f3a644"/>
<rect x="1231.8" y="1148.28" width="53.6" height="20.91" fill="#d3de5f"/>
<rect x="1045.25" y="1168.89" width="240.15" height="20.91" fill="#d3de5f"/>
<path d="M991.95 756.7V1189.5M1018.6 756.7V1189.5M1045.25 756.7V1189.5M1071.9 756.7V1189.5M1098.55 756.7V1189.5M1125.2 756.7V1189.5M1151.85 756.7V1189.5M1178.5 756.7V1189.5M1205.15 756.7V1189.5M1231.8 756.7V1189.5M1258.45 756.7V1189.5M965.3 777.31H1285.1M965.3 797.92H1285.1M965.3 818.53H1285.1M965.3 839.14H1285.1M965.3 859.75H1285.1M965.3 880.36H1285.1M965.3 900.97H1285.1M965.3 921.58H1285.1M965.3 942.19H1285.1M965.3 962.8H1285.1M965.3 983.4H1285.1M965.3 1004.01H1285.1M965.3 1024.62H1285.1M965.3 1045.23H1285.1M965.3 1065.84H1285.1M965.3 1086.45H1285.1M965.3 1107.06H1285.1M965.3 1127.67H1285.1M965.3 1148.28H1285.1M965.3 1168.89H1285.1" stroke="#b2b2b2" stroke-width="1.3" fill="none"/>
<rect x="965.3" y="756.7" width="319.8" height="432.8" fill="none" stroke="#000" stroke-width="1.6"/>
<line x1="959.1" y1="767" x2="965.3" y2="767" stroke="#000" stroke-width="1.3"/>
<text x="956.8" y="773.4" font-size="20.4" text-anchor="end">USA</text>
<line x1="959.1" y1="787.61" x2="965.3" y2="787.61" stroke="#000" stroke-width="1.3"/>
<text x="956.3" y="794.01" font-size="20.4" text-anchor="end">SAU</text>
<line x1="959.1" y1="808.22" x2="965.3" y2="808.22" stroke="#000" stroke-width="1.3"/>
<text x="953.1" y="814.62" font-size="20.4" text-anchor="end">QAT</text>
<line x1="959.1" y1="828.83" x2="965.3" y2="828.83" stroke="#000" stroke-width="1.3"/>
<text x="953" y="835.23" font-size="20.4" text-anchor="end">OMN</text>
<line x1="959.1" y1="849.44" x2="965.3" y2="849.44" stroke="#000" stroke-width="1.3"/>
<text x="952.3" y="855.84" font-size="20.4" text-anchor="end">NZL</text>
<line x1="959.1" y1="870.05" x2="965.3" y2="870.05" stroke="#000" stroke-width="1.3"/>
<text x="956.2" y="876.45" font-size="20.4" text-anchor="end">NOR</text>
<line x1="959.1" y1="890.66" x2="965.3" y2="890.66" stroke="#000" stroke-width="1.3"/>
<text x="953.1" y="897.06" font-size="20.4" text-anchor="end">NLD</text>
<line x1="959.1" y1="911.27" x2="965.3" y2="911.27" stroke="#000" stroke-width="1.3"/>
<text x="950.5" y="917.67" font-size="20.4" text-anchor="end">KWT</text>
<line x1="959.1" y1="931.88" x2="965.3" y2="931.88" stroke="#000" stroke-width="1.3"/>
<text x="956.3" y="938.28" font-size="20.4" text-anchor="end">JPN</text>
<line x1="959.1" y1="952.49" x2="965.3" y2="952.49" stroke="#000" stroke-width="1.3"/>
<text x="950.9" y="958.89" font-size="20.4" text-anchor="end">ITA</text>
<line x1="959.1" y1="973.1" x2="965.3" y2="973.1" stroke="#000" stroke-width="1.3"/>
<text x="950.5" y="979.5" font-size="20.4" text-anchor="end">IRL</text>
<line x1="959.1" y1="993.71" x2="965.3" y2="993.71" stroke="#000" stroke-width="1.3"/>
<text x="953.1" y="1000.11" font-size="20.4" text-anchor="end">IDN</text>
<line x1="959.1" y1="1014.32" x2="965.3" y2="1014.32" stroke="#000" stroke-width="1.3"/>
<text x="954.6" y="1020.72" font-size="20.4" text-anchor="end">HUN</text>
<line x1="959.1" y1="1034.93" x2="965.3" y2="1034.93" stroke="#000" stroke-width="1.3"/>
<text x="955.6" y="1041.33" font-size="20.4" text-anchor="end">GBR</text>
<line x1="959.1" y1="1055.54" x2="965.3" y2="1055.54" stroke="#000" stroke-width="1.3"/>
<text x="955.6" y="1061.94" font-size="20.4" text-anchor="end">DEU</text>
<line x1="959.1" y1="1076.15" x2="965.3" y2="1076.15" stroke="#000" stroke-width="1.3"/>
<text x="954.6" y="1082.55" font-size="20.4" text-anchor="end">CHN</text>
<line x1="959.1" y1="1096.76" x2="965.3" y2="1096.76" stroke="#000" stroke-width="1.3"/>
<text x="954.6" y="1103.16" font-size="20.4" text-anchor="end">CAN</text>
<line x1="959.1" y1="1117.37" x2="965.3" y2="1117.37" stroke="#000" stroke-width="1.3"/>
<text x="954.6" y="1123.77" font-size="20.4" text-anchor="end">BRA</text>
<line x1="959.1" y1="1137.98" x2="965.3" y2="1137.98" stroke="#000" stroke-width="1.3"/>
<text x="953.1" y="1144.38" font-size="20.4" text-anchor="end">BEL</text>
<line x1="959.1" y1="1158.59" x2="965.3" y2="1158.59" stroke="#000" stroke-width="1.3"/>
<text x="956.3" y="1164.99" font-size="20.4" text-anchor="end">AUS</text>
<line x1="959.1" y1="1179.2" x2="965.3" y2="1179.2" stroke="#000" stroke-width="1.3"/>
<text x="954.6" y="1185.6" font-size="20.4" text-anchor="end">ARE</text>
<line x1="978.62" y1="1189.5" x2="978.62" y2="1195.5" stroke="#000" stroke-width="1.3"/>
<text x="985.92" y="1239.5" font-size="20.4" transform="rotate(-90 985.92 1239.5)">2013</text>
<line x1="1005.27" y1="1189.5" x2="1005.27" y2="1195.5" stroke="#000" stroke-width="1.3"/>
<text x="1012.57" y="1239.5" font-size="20.4" transform="rotate(-90 1012.57 1239.5)">2014</text>
<line x1="1031.92" y1="1189.5" x2="1031.92" y2="1195.5" stroke="#000" stroke-width="1.3"/>
<text x="1039.22" y="1239.5" font-size="20.4" transform="rotate(-90 1039.22 1239.5)">2015</text>
<line x1="1058.57" y1="1189.5" x2="1058.57" y2="1195.5" stroke="#000" stroke-width="1.3"/>
<text x="1065.87" y="1239.5" font-size="20.4" transform="rotate(-90 1065.87 1239.5)">2016</text>
<line x1="1085.22" y1="1189.5" x2="1085.22" y2="1195.5" stroke="#000" stroke-width="1.3"/>
<text x="1092.52" y="1239.5" font-size="20.4" transform="rotate(-90 1092.52 1239.5)">2017</text>
<line x1="1111.88" y1="1189.5" x2="1111.88" y2="1195.5" stroke="#000" stroke-width="1.3"/>
<text x="1119.17" y="1239.5" font-size="20.4" transform="rotate(-90 1119.17 1239.5)">2018</text>
<line x1="1138.52" y1="1189.5" x2="1138.52" y2="1195.5" stroke="#000" stroke-width="1.3"/>
<text x="1145.82" y="1239.5" font-size="20.4" transform="rotate(-90 1145.82 1239.5)">2019</text>
<line x1="1165.17" y1="1189.5" x2="1165.17" y2="1195.5" stroke="#000" stroke-width="1.3"/>
<text x="1172.47" y="1239.5" font-size="20.4" transform="rotate(-90 1172.47 1239.5)">2020</text>
<line x1="1191.82" y1="1189.5" x2="1191.82" y2="1195.5" stroke="#000" stroke-width="1.3"/>
<text x="1199.12" y="1239.5" font-size="20.4" transform="rotate(-90 1199.12 1239.5)">2021</text>
<line x1="1218.47" y1="1189.5" x2="1218.47" y2="1195.5" stroke="#000" stroke-width="1.3"/>
<text x="1225.77" y="1239.5" font-size="20.4" transform="rotate(-90 1225.77 1239.5)">2022</text>
<line x1="1245.12" y1="1189.5" x2="1245.12" y2="1195.5" stroke="#000" stroke-width="1.3"/>
<text x="1252.42" y="1239.5" font-size="20.4" transform="rotate(-90 1252.42 1239.5)">2023</text>
<line x1="1271.77" y1="1189.5" x2="1271.77" y2="1195.5" stroke="#000" stroke-width="1.3"/>
<text x="1279.07" y="1239.5" font-size="20.4" transform="rotate(-90 1279.07 1239.5)">2024</text>
<rect x="1456.6" y="756.7" width="320.1" height="20.91" fill="#aed192"/>
<rect x="1509.9" y="777.31" width="213.5" height="20.91" fill="#aed192"/>
<rect x="1723.1" y="777.31" width="53.6" height="20.91" fill="#27a774"/>
<rect x="1616.5" y="797.92" width="133.55" height="20.91" fill="#aed192"/>
<rect x="1749.75" y="797.92" width="26.95" height="20.91" fill="#aacb47"/>
<rect x="1749.75" y="818.53" width="26.95" height="20.91" fill="#76b866"/>
<rect x="1749.75" y="839.14" width="26.95" height="20.91" fill="#aed192"/>
<rect x="1456.6" y="859.75" width="106.9" height="20.91" fill="#aed192"/>
<rect x="1563.2" y="859.75" width="53.6" height="20.91" fill="#86bd57"/>
<rect x="1616.5" y="859.75" width="26.95" height="20.91" fill="#0e9f73"/>
<rect x="1643.15" y="859.75" width="53.6" height="20.91" fill="#9cc77c"/>
<rect x="1696.45" y="859.75" width="26.95" height="20.91" fill="#aacb47"/>
<rect x="1723.1" y="859.75" width="26.95" height="20.91" fill="#9cc77c"/>
<rect x="1749.75" y="859.75" width="26.95" height="20.91" fill="#aed192"/>
<rect x="1456.6" y="880.36" width="106.9" height="20.91" fill="#9cc77c"/>
<rect x="1563.2" y="880.36" width="26.95" height="20.91" fill="#86bd57"/>
<rect x="1589.85" y="880.36" width="26.95" height="20.91" fill="#76b866"/>
<rect x="1616.5" y="880.36" width="26.95" height="20.91" fill="#64b26a"/>
<rect x="1643.15" y="880.36" width="26.95" height="20.91" fill="#0e9f73"/>
<rect x="1669.8" y="880.36" width="26.95" height="20.91" fill="#27a774"/>
<rect x="1696.45" y="880.36" width="26.95" height="20.91" fill="#10967b"/>
<rect x="1723.1" y="880.36" width="26.95" height="20.91" fill="#0e9f73"/>
<rect x="1749.75" y="880.36" width="26.95" height="20.91" fill="#aacb47"/>
<rect x="1536.55" y="900.97" width="26.95" height="20.91" fill="#9cc77c"/>
<rect x="1563.2" y="900.97" width="80.25" height="20.91" fill="#aacb47"/>
<rect x="1643.15" y="900.97" width="26.95" height="20.91" fill="#0e9f73"/>
<rect x="1669.8" y="900.97" width="106.9" height="20.91" fill="#10967b"/>
<rect x="1536.55" y="921.58" width="26.95" height="20.91" fill="#76b866"/>
<rect x="1563.2" y="921.58" width="26.95" height="20.91" fill="#64b26a"/>
<rect x="1589.85" y="921.58" width="53.6" height="20.91" fill="#86bd57"/>
<rect x="1643.15" y="921.58" width="26.95" height="20.91" fill="#aacb47"/>
<rect x="1669.8" y="921.58" width="106.9" height="20.91" fill="#25244f"/>
<rect x="1723.1" y="942.19" width="26.95" height="20.91" fill="#aacb47"/>
<rect x="1749.75" y="942.19" width="26.95" height="20.91" fill="#27a774"/>
<rect x="1669.8" y="962.8" width="26.95" height="20.91" fill="#aacb47"/>
<rect x="1696.45" y="962.8" width="26.95" height="20.91" fill="#76b866"/>
<rect x="1723.1" y="962.8" width="53.6" height="20.91" fill="#52a972"/>
<rect x="1749.75" y="983.4" width="26.95" height="20.91" fill="#86bd57"/>
<rect x="1456.6" y="1004.01" width="26.95" height="20.91" fill="#9cc77c"/>
<rect x="1483.25" y="1004.01" width="26.95" height="20.91" fill="#76b866"/>
<rect x="1509.9" y="1004.01" width="26.95" height="20.91" fill="#64b26a"/>
<rect x="1536.55" y="1004.01" width="26.95" height="20.91" fill="#52a972"/>
<rect x="1563.2" y="1004.01" width="80.25" height="20.91" fill="#aacb47"/>
<rect x="1643.15" y="1004.01" width="26.95" height="20.91" fill="#86bd57"/>
<rect x="1669.8" y="1004.01" width="26.95" height="20.91" fill="#64b26a"/>
<rect x="1696.45" y="1004.01" width="26.95" height="20.91" fill="#0e9f73"/>
<rect x="1723.1" y="1004.01" width="26.95" height="20.91" fill="#0f8486"/>
<rect x="1749.75" y="1004.01" width="26.95" height="20.91" fill="#2e6491"/>
<rect x="1749.75" y="1024.62" width="26.95" height="20.91" fill="#52a972"/>
<rect x="1749.75" y="1045.23" width="26.95" height="20.91" fill="#9cc77c"/>
<rect x="1456.6" y="1065.84" width="26.95" height="20.91" fill="#86bd57"/>
<rect x="1483.25" y="1065.84" width="26.95" height="20.91" fill="#25244f"/>
<rect x="1509.9" y="1065.84" width="26.95" height="20.91" fill="#64b26a"/>
<rect x="1536.55" y="1065.84" width="26.95" height="20.91" fill="#10967b"/>
<rect x="1563.2" y="1065.84" width="26.95" height="20.91" fill="#0f8486"/>
<rect x="1589.85" y="1065.84" width="80.25" height="20.91" fill="#64b26a"/>
<rect x="1669.8" y="1065.84" width="26.95" height="20.91" fill="#52a972"/>
<rect x="1696.45" y="1065.84" width="26.95" height="20.91" fill="#25244f"/>
<rect x="1723.1" y="1065.84" width="26.95" height="20.91" fill="#404b91"/>
<rect x="1749.75" y="1065.84" width="26.95" height="20.91" fill="#0f8486"/>
<rect x="1456.6" y="1086.45" width="26.95" height="20.91" fill="#aacb47"/>
<rect x="1483.25" y="1086.45" width="26.95" height="20.91" fill="#76b866"/>
<rect x="1509.9" y="1086.45" width="26.95" height="20.91" fill="#0e7889"/>
<rect x="1536.55" y="1086.45" width="26.95" height="20.91" fill="#aed192"/>
<rect x="1563.2" y="1086.45" width="26.95" height="20.91" fill="#86bd57"/>
<rect x="1589.85" y="1086.45" width="53.6" height="20.91" fill="#25244f"/>
<rect x="1643.15" y="1086.45" width="133.55" height="20.91" fill="#aed192"/>
<rect x="1456.6" y="1107.06" width="320.1" height="20.91" fill="#aed192"/>
<rect x="1696.45" y="1127.67" width="26.95" height="20.91" fill="#aacb47"/>
<rect x="1723.1" y="1127.67" width="53.6" height="20.91" fill="#52a972"/>
<rect x="1616.5" y="1148.28" width="80.25" height="20.91" fill="#aed192"/>
<rect x="1696.45" y="1148.28" width="26.95" height="20.91" fill="#76b866"/>
<rect x="1723.1" y="1148.28" width="53.6" height="20.91" fill="#aed192"/>
<rect x="1536.55" y="1168.89" width="186.85" height="20.91" fill="#aed192"/>
<rect x="1723.1" y="1168.89" width="26.95" height="20.91" fill="#64b26a"/>
<rect x="1749.75" y="1168.89" width="26.95" height="20.91" fill="#52a972"/>
<path d="M1483.25 756.7V1189.5M1509.9 756.7V1189.5M1536.55 756.7V1189.5M1563.2 756.7V1189.5M1589.85 756.7V1189.5M1616.5 756.7V1189.5M1643.15 756.7V1189.5M1669.8 756.7V1189.5M1696.45 756.7V1189.5M1723.1 756.7V1189.5M1749.75 756.7V1189.5M1456.6 777.31H1776.4M1456.6 797.92H1776.4M1456.6 818.53H1776.4M1456.6 839.14H1776.4M1456.6 859.75H1776.4M1456.6 880.36H1776.4M1456.6 900.97H1776.4M1456.6 921.58H1776.4M1456.6 942.19H1776.4M1456.6 962.8H1776.4M1456.6 983.4H1776.4M1456.6 1004.01H1776.4M1456.6 1024.62H1776.4M1456.6 1045.23H1776.4M1456.6 1065.84H1776.4M1456.6 1086.45H1776.4M1456.6 1107.06H1776.4M1456.6 1127.67H1776.4M1456.6 1148.28H1776.4M1456.6 1168.89H1776.4" stroke="#b2b2b2" stroke-width="1.3" fill="none"/>
<rect x="1456.6" y="756.7" width="319.8" height="432.8" fill="none" stroke="#000" stroke-width="1.6"/>
<line x1="1450.4" y1="767" x2="1456.6" y2="767" stroke="#000" stroke-width="1.3"/>
<text x="1448.1" y="773.4" font-size="20.4" text-anchor="end">USA</text>
<line x1="1450.4" y1="787.61" x2="1456.6" y2="787.61" stroke="#000" stroke-width="1.3"/>
<text x="1447.6" y="794.01" font-size="20.4" text-anchor="end">SAU</text>
<line x1="1450.4" y1="808.22" x2="1456.6" y2="808.22" stroke="#000" stroke-width="1.3"/>
<text x="1444.4" y="814.62" font-size="20.4" text-anchor="end">QAT</text>
<line x1="1450.4" y1="828.83" x2="1456.6" y2="828.83" stroke="#000" stroke-width="1.3"/>
<text x="1444.3" y="835.23" font-size="20.4" text-anchor="end">OMN</text>
<line x1="1450.4" y1="849.44" x2="1456.6" y2="849.44" stroke="#000" stroke-width="1.3"/>
<text x="1443.6" y="855.84" font-size="20.4" text-anchor="end">NZL</text>
<line x1="1450.4" y1="870.05" x2="1456.6" y2="870.05" stroke="#000" stroke-width="1.3"/>
<text x="1447.5" y="876.45" font-size="20.4" text-anchor="end">NOR</text>
<line x1="1450.4" y1="890.66" x2="1456.6" y2="890.66" stroke="#000" stroke-width="1.3"/>
<text x="1444.4" y="897.06" font-size="20.4" text-anchor="end">NLD</text>
<line x1="1450.4" y1="911.27" x2="1456.6" y2="911.27" stroke="#000" stroke-width="1.3"/>
<text x="1441.8" y="917.67" font-size="20.4" text-anchor="end">KWT</text>
<line x1="1450.4" y1="931.88" x2="1456.6" y2="931.88" stroke="#000" stroke-width="1.3"/>
<text x="1447.6" y="938.28" font-size="20.4" text-anchor="end">JPN</text>
<line x1="1450.4" y1="952.49" x2="1456.6" y2="952.49" stroke="#000" stroke-width="1.3"/>
<text x="1442.2" y="958.89" font-size="20.4" text-anchor="end">ITA</text>
<line x1="1450.4" y1="973.1" x2="1456.6" y2="973.1" stroke="#000" stroke-width="1.3"/>
<text x="1441.8" y="979.5" font-size="20.4" text-anchor="end">IRL</text>
<line x1="1450.4" y1="993.71" x2="1456.6" y2="993.71" stroke="#000" stroke-width="1.3"/>
<text x="1444.4" y="1000.11" font-size="20.4" text-anchor="end">IDN</text>
<line x1="1450.4" y1="1014.32" x2="1456.6" y2="1014.32" stroke="#000" stroke-width="1.3"/>
<text x="1445.9" y="1020.72" font-size="20.4" text-anchor="end">HUN</text>
<line x1="1450.4" y1="1034.93" x2="1456.6" y2="1034.93" stroke="#000" stroke-width="1.3"/>
<text x="1446.9" y="1041.33" font-size="20.4" text-anchor="end">GBR</text>
<line x1="1450.4" y1="1055.54" x2="1456.6" y2="1055.54" stroke="#000" stroke-width="1.3"/>
<text x="1446.9" y="1061.94" font-size="20.4" text-anchor="end">DEU</text>
<line x1="1450.4" y1="1076.15" x2="1456.6" y2="1076.15" stroke="#000" stroke-width="1.3"/>
<text x="1445.9" y="1082.55" font-size="20.4" text-anchor="end">CHN</text>
<line x1="1450.4" y1="1096.76" x2="1456.6" y2="1096.76" stroke="#000" stroke-width="1.3"/>
<text x="1445.9" y="1103.16" font-size="20.4" text-anchor="end">CAN</text>
<line x1="1450.4" y1="1117.37" x2="1456.6" y2="1117.37" stroke="#000" stroke-width="1.3"/>
<text x="1445.9" y="1123.77" font-size="20.4" text-anchor="end">BRA</text>
<line x1="1450.4" y1="1137.98" x2="1456.6" y2="1137.98" stroke="#000" stroke-width="1.3"/>
<text x="1444.4" y="1144.38" font-size="20.4" text-anchor="end">BEL</text>
<line x1="1450.4" y1="1158.59" x2="1456.6" y2="1158.59" stroke="#000" stroke-width="1.3"/>
<text x="1447.6" y="1164.99" font-size="20.4" text-anchor="end">AUS</text>
<line x1="1450.4" y1="1179.2" x2="1456.6" y2="1179.2" stroke="#000" stroke-width="1.3"/>
<text x="1445.9" y="1185.6" font-size="20.4" text-anchor="end">ARE</text>
<line x1="1469.92" y1="1189.5" x2="1469.92" y2="1195.5" stroke="#000" stroke-width="1.3"/>
<text x="1477.22" y="1239.5" font-size="20.4" transform="rotate(-90 1477.22 1239.5)">2013</text>
<line x1="1496.57" y1="1189.5" x2="1496.57" y2="1195.5" stroke="#000" stroke-width="1.3"/>
<text x="1503.87" y="1239.5" font-size="20.4" transform="rotate(-90 1503.87 1239.5)">2014</text>
<line x1="1523.22" y1="1189.5" x2="1523.22" y2="1195.5" stroke="#000" stroke-width="1.3"/>
<text x="1530.52" y="1239.5" font-size="20.4" transform="rotate(-90 1530.52 1239.5)">2015</text>
<line x1="1549.88" y1="1189.5" x2="1549.88" y2="1195.5" stroke="#000" stroke-width="1.3"/>
<text x="1557.17" y="1239.5" font-size="20.4" transform="rotate(-90 1557.17 1239.5)">2016</text>
<line x1="1576.53" y1="1189.5" x2="1576.53" y2="1195.5" stroke="#000" stroke-width="1.3"/>
<text x="1583.83" y="1239.5" font-size="20.4" transform="rotate(-90 1583.83 1239.5)">2017</text>
<line x1="1603.17" y1="1189.5" x2="1603.17" y2="1195.5" stroke="#000" stroke-width="1.3"/>
<text x="1610.47" y="1239.5" font-size="20.4" transform="rotate(-90 1610.47 1239.5)">2018</text>
<line x1="1629.83" y1="1189.5" x2="1629.83" y2="1195.5" stroke="#000" stroke-width="1.3"/>
<text x="1637.12" y="1239.5" font-size="20.4" transform="rotate(-90 1637.12 1239.5)">2019</text>
<line x1="1656.47" y1="1189.5" x2="1656.47" y2="1195.5" stroke="#000" stroke-width="1.3"/>
<text x="1663.77" y="1239.5" font-size="20.4" transform="rotate(-90 1663.77 1239.5)">2020</text>
<line x1="1683.12" y1="1189.5" x2="1683.12" y2="1195.5" stroke="#000" stroke-width="1.3"/>
<text x="1690.42" y="1239.5" font-size="20.4" transform="rotate(-90 1690.42 1239.5)">2021</text>
<line x1="1709.78" y1="1189.5" x2="1709.78" y2="1195.5" stroke="#000" stroke-width="1.3"/>
<text x="1717.08" y="1239.5" font-size="20.4" transform="rotate(-90 1717.08 1239.5)">2022</text>
<line x1="1736.43" y1="1189.5" x2="1736.43" y2="1195.5" stroke="#000" stroke-width="1.3"/>
<text x="1743.73" y="1239.5" font-size="20.4" transform="rotate(-90 1743.73 1239.5)">2023</text>
<line x1="1763.08" y1="1189.5" x2="1763.08" y2="1195.5" stroke="#000" stroke-width="1.3"/>
<text x="1770.38" y="1239.5" font-size="20.4" transform="rotate(-90 1770.38 1239.5)">2024</text>
<rect x="1314.5" y="1151.19" width="11.5" height="14.61" fill="#dddf4d"/>
<rect x="1314.5" y="1136.98" width="11.5" height="14.61" fill="#ebd83e"/>
<rect x="1314.5" y="1122.76" width="11.5" height="14.61" fill="#f0c63a"/>
<rect x="1314.5" y="1108.55" width="11.5" height="14.61" fill="#f1b63c"/>
<rect x="1314.5" y="1094.34" width="11.5" height="14.61" fill="#f0a53f"/>
<rect x="1314.5" y="1080.12" width="11.5" height="14.61" fill="#ed9743"/>
<rect x="1314.5" y="1065.91" width="11.5" height="14.61" fill="#e88a4a"/>
<rect x="1314.5" y="1051.7" width="11.5" height="14.61" fill="#e27c51"/>
<rect x="1314.5" y="1037.49" width="11.5" height="14.61" fill="#dc705a"/>
<rect x="1314.5" y="1023.28" width="11.5" height="14.61" fill="#d66560"/>
<rect x="1314.5" y="1009.06" width="11.5" height="14.61" fill="#cf5c65"/>
<rect x="1314.5" y="994.85" width="11.5" height="14.61" fill="#c9536b"/>
<rect x="1314.5" y="980.64" width="11.5" height="14.61" fill="#c14871"/>
<rect x="1314.5" y="966.42" width="11.5" height="14.61" fill="#b73b78"/>
<rect x="1314.5" y="952.21" width="11.5" height="14.61" fill="#a9317c"/>
<rect x="1314.5" y="938" width="11.5" height="14.61" fill="#992c7c"/>
<rect x="1314.5" y="923.79" width="11.5" height="14.61" fill="#862a7a"/>
<rect x="1314.5" y="909.58" width="11.5" height="14.61" fill="#732b7b"/>
<rect x="1314.5" y="895.36" width="11.5" height="14.61" fill="#602e81"/>
<rect x="1314.5" y="881.15" width="11.5" height="14.61" fill="#503083"/>
<rect x="1314.5" y="866.94" width="11.5" height="14.61" fill="#432f86"/>
<rect x="1314.5" y="852.72" width="11.5" height="14.61" fill="#363188"/>
<rect x="1314.5" y="838.51" width="11.5" height="14.61" fill="#2b3484"/>
<rect x="1314.5" y="824.3" width="11.5" height="14.61" fill="#273574"/>
<path d="M1314.5 824.3V1165.5H1326.5V824.3" fill="none" stroke="#000" stroke-width="1.25"/>
<text x="1315.2" y="805.1" font-size="24" font-weight="bold">Le6</text>
<line x1="1326" y1="824.3" x2="1332" y2="824.3" stroke="#000" stroke-width="1.1"/>
<text x="1341.5" y="834.7" font-size="29.5">5</text>
<line x1="1326" y1="909.58" x2="1332" y2="909.58" stroke="#000" stroke-width="1.1"/>
<text x="1341.5" y="919.98" font-size="29.5">4</text>
<line x1="1326" y1="994.85" x2="1332" y2="994.85" stroke="#000" stroke-width="1.1"/>
<text x="1341.5" y="1005.25" font-size="29.5">3</text>
<line x1="1326" y1="1080.12" x2="1332" y2="1080.12" stroke="#000" stroke-width="1.1"/>
<text x="1341.5" y="1090.53" font-size="29.5">1</text>
<line x1="1326" y1="1165.4" x2="1332" y2="1165.4" stroke="#000" stroke-width="1.1"/>
<text x="1341.5" y="1175.8" font-size="29.5">0</text>
<rect x="1802.1" y="1151.47" width="11.1" height="14.93" fill="#a9ce8a"/>
<rect x="1802.1" y="1136.94" width="11.1" height="14.93" fill="#a6cc70"/>
<rect x="1802.1" y="1122.41" width="11.1" height="14.93" fill="#aecc49"/>
<rect x="1802.1" y="1107.88" width="11.1" height="14.93" fill="#91c151"/>
<rect x="1802.1" y="1093.35" width="11.1" height="14.93" fill="#78b961"/>
<rect x="1802.1" y="1078.83" width="11.1" height="14.93" fill="#62b26a"/>
<rect x="1802.1" y="1064.3" width="11.1" height="14.93" fill="#4fac70"/>
<rect x="1802.1" y="1049.77" width="11.1" height="14.93" fill="#37a876"/>
<rect x="1802.1" y="1035.24" width="11.1" height="14.93" fill="#24a47b"/>
<rect x="1802.1" y="1020.71" width="11.1" height="14.93" fill="#1a9e7c"/>
<rect x="1802.1" y="1006.18" width="11.1" height="14.93" fill="#14977e"/>
<rect x="1802.1" y="991.65" width="11.1" height="14.93" fill="#129081"/>
<rect x="1802.1" y="977.12" width="11.1" height="14.93" fill="#108884"/>
<rect x="1802.1" y="962.59" width="11.1" height="14.93" fill="#0f7f87"/>
<rect x="1802.1" y="948.06" width="11.1" height="14.93" fill="#17758a"/>
<rect x="1802.1" y="933.53" width="11.1" height="14.93" fill="#206c8d"/>
<rect x="1802.1" y="919" width="11.1" height="14.93" fill="#2b618e"/>
<rect x="1802.1" y="904.47" width="11.1" height="14.93" fill="#34578f"/>
<rect x="1802.1" y="889.95" width="11.1" height="14.93" fill="#3b4f90"/>
<rect x="1802.1" y="875.42" width="11.1" height="14.93" fill="#41478e"/>
<rect x="1802.1" y="860.89" width="11.1" height="14.93" fill="#423e88"/>
<rect x="1802.1" y="846.36" width="11.1" height="14.93" fill="#403577"/>
<rect x="1802.1" y="831.83" width="11.1" height="14.93" fill="#3b2c5f"/>
<rect x="1802.1" y="817.3" width="11.1" height="14.93" fill="#392554"/>
<path d="M1802.5 817.3V1166.5H1813.5V817.3" fill="none" stroke="#000" stroke-width="1.25"/>
<text x="1815.3" y="797" font-size="24" font-weight="bold" textLength="31.5" lengthAdjust="spacingAndGlyphs">le6</text>
<line x1="1813.2" y1="817.3" x2="1819" y2="817.3" stroke="#000" stroke-width="1.1"/>
<text x="1828.6" y="827.5" font-size="29.5">5</text>
<line x1="1813.2" y1="904.47" x2="1819" y2="904.47" stroke="#000" stroke-width="1.1"/>
<text x="1828.6" y="914.67" font-size="29.5">4</text>
<line x1="1813.2" y1="991.65" x2="1819" y2="991.65" stroke="#000" stroke-width="1.1"/>
<text x="1828.6" y="1001.85" font-size="29.5">3</text>
<line x1="1813.2" y1="1078.83" x2="1819" y2="1078.83" stroke="#000" stroke-width="1.1"/>
<text x="1828.6" y="1089.03" font-size="29.5">1</text>
<line x1="1813.2" y1="1166" x2="1819" y2="1166" stroke="#000" stroke-width="1.1"/>
<text x="1828.6" y="1176.2" font-size="29.5">0</text>
<text x="4.6" y="1292.5" font-size="50.3" font-weight="bold">h)</text>
<line x1="82.3" y1="1382.3" x2="82.3" y2="1558.2" stroke="#adadad" stroke-width="1.5"/>
<line x1="133.2" y1="1382.3" x2="133.2" y2="1558.2" stroke="#adadad" stroke-width="1.5"/>
<line x1="183.9" y1="1382.3" x2="183.9" y2="1558.2" stroke="#adadad" stroke-width="1.5"/>
<line x1="235.1" y1="1382.3" x2="235.1" y2="1558.2" stroke="#adadad" stroke-width="1.5"/>
<line x1="286.2" y1="1382.3" x2="286.2" y2="1558.2" stroke="#adadad" stroke-width="1.5"/>
<line x1="337.1" y1="1382.3" x2="337.1" y2="1558.2" stroke="#adadad" stroke-width="1.5"/>
<line x1="387.8" y1="1382.3" x2="387.8" y2="1558.2" stroke="#adadad" stroke-width="1.5"/>
<line x1="64.9" y1="1396.6" x2="431.2" y2="1396.6" stroke="#adadad" stroke-width="1.5"/>
<line x1="64.9" y1="1440.5" x2="431.2" y2="1440.5" stroke="#adadad" stroke-width="1.5"/>
<line x1="64.9" y1="1499.2" x2="431.2" y2="1499.2" stroke="#adadad" stroke-width="1.5"/>
<path d="M82.3 1550.44 L95.03 1550.44 L107.76 1550.44 L120.49 1550.44 L133.22 1550.29 L145.95 1550.29 L158.68 1546.46 L171.41 1546.46 L184.14 1546.01 L196.87 1545.28 L209.6 1544.69 L222.33 1544.24 L235.06 1543.06 L247.79 1542.92 L260.52 1543.36 L273.25 1542.03 L285.98 1539.97 L298.71 1539.97 L311.44 1538.79 L324.17 1538.2 L336.9 1529.1 L336.9 1534.3 L324.17 1543.4 L311.44 1543.98 L298.71 1545.16 L285.98 1545.16 L273.25 1547.23 L260.52 1548.56 L247.79 1548.12 L235.06 1548.26 L222.33 1549.44 L209.6 1549.88 L196.87 1550.47 L184.14 1551.21 L171.41 1551.65 L158.68 1551.65 L145.95 1555.49 L133.22 1555.49 L120.49 1555.64 L107.76 1555.64 L95.03 1555.64 L82.3 1555.64 Z" fill="#b4c9c0"/>
<path d="M336.9 1531.7 L349.58 1520.65 L362.27 1504.16 L374.95 1487.67 L387.63 1471.18 L400.32 1454.69 L413 1438.2 L413 1515.6 L400.32 1515.56 L387.63 1516.09 L374.95 1517.36 L362.27 1519.62 L349.58 1523.85 L336.9 1531.7 Z" fill="#b4c9c0"/>
<path d="M336.9 1531.7 L349.58 1521.29 L362.27 1509.52 L374.95 1497.75 L387.63 1485.98 L400.32 1474.21 L413 1462.44 L413 1487.76 L400.32 1494.85 L387.63 1501.94 L374.95 1509.03 L362.27 1516.12 L349.58 1523.21 L336.9 1531.7 Z" fill="#7ea596"/>
<path d="M82.3 1553.04 L95.03 1553.04 L107.76 1553.04 L120.49 1553.04 L133.22 1552.89 L145.95 1552.89 L158.68 1549.06 L171.41 1549.06 L184.14 1548.61 L196.87 1547.88 L209.6 1547.29 L222.33 1546.84 L235.06 1545.66 L247.79 1545.52 L260.52 1545.96 L273.25 1544.63 L285.98 1542.57 L298.71 1542.57 L311.44 1541.38 L324.17 1540.8 L336.9 1531.7" fill="none" stroke="#3f8a70" stroke-width="1.9" stroke-linejoin="round"/>
<line x1="336.9" y1="1531.7" x2="413" y2="1475" stroke="#3f8a70" stroke-width="1.5" stroke-dasharray="6 3"/>
<circle cx="82.3" cy="1553.04" r="2.3" fill="#3f8a70"/>
<circle cx="95.03" cy="1553.04" r="2.3" fill="#3f8a70"/>
<circle cx="107.76" cy="1553.04" r="2.3" fill="#3f8a70"/>
<circle cx="120.49" cy="1553.04" r="2.3" fill="#3f8a70"/>
<circle cx="133.22" cy="1552.89" r="2.3" fill="#3f8a70"/>
<circle cx="145.95" cy="1552.89" r="2.3" fill="#3f8a70"/>
<circle cx="158.68" cy="1549.06" r="2.3" fill="#3f8a70"/>
<circle cx="171.41" cy="1549.06" r="2.3" fill="#3f8a70"/>
<circle cx="184.14" cy="1548.61" r="2.3" fill="#3f8a70"/>
<circle cx="196.87" cy="1547.88" r="2.3" fill="#3f8a70"/>
<circle cx="209.6" cy="1547.29" r="2.3" fill="#3f8a70"/>
<circle cx="222.33" cy="1546.84" r="2.3" fill="#3f8a70"/>
<circle cx="235.06" cy="1545.66" r="2.3" fill="#3f8a70"/>
<circle cx="247.79" cy="1545.52" r="2.3" fill="#3f8a70"/>
<circle cx="260.52" cy="1545.96" r="2.3" fill="#3f8a70"/>
<circle cx="273.25" cy="1544.63" r="2.3" fill="#3f8a70"/>
<circle cx="285.98" cy="1542.57" r="2.3" fill="#3f8a70"/>
<circle cx="298.71" cy="1542.57" r="2.3" fill="#3f8a70"/>
<circle cx="311.44" cy="1541.38" r="2.3" fill="#3f8a70"/>
<circle cx="324.17" cy="1540.8" r="2.3" fill="#3f8a70"/>
<circle cx="336.9" cy="1531.7" r="2.3" fill="#3f8a70"/>
<rect x="64.9" y="1382.3" width="366.3" height="175.9" fill="none" stroke="#231815" stroke-width="1.7"/>
<line x1="82.3" y1="1558.2" x2="82.3" y2="1561.2" stroke="#231815" stroke-width="1"/>
<line x1="133.2" y1="1558.2" x2="133.2" y2="1561.2" stroke="#231815" stroke-width="1"/>
<line x1="183.9" y1="1558.2" x2="183.9" y2="1561.2" stroke="#231815" stroke-width="1"/>
<line x1="235.1" y1="1558.2" x2="235.1" y2="1561.2" stroke="#231815" stroke-width="1"/>
<line x1="286.2" y1="1558.2" x2="286.2" y2="1561.2" stroke="#231815" stroke-width="1"/>
<line x1="337.1" y1="1558.2" x2="337.1" y2="1561.2" stroke="#231815" stroke-width="1"/>
<line x1="387.8" y1="1558.2" x2="387.8" y2="1561.2" stroke="#231815" stroke-width="1"/>
<line x1="413" y1="1381.3" x2="413" y2="1558.2" stroke="#a9233d" stroke-width="2.4" stroke-dasharray="7 3.5"/>
<text x="367.2" y="1550.7" font-size="17.6" font-weight="bold" fill="#e50f23" textLength="40.6" lengthAdjust="spacingAndGlyphs">2030</text>
<rect x="77.4" y="1388.8" width="117.9" height="94.1" fill="#fff" stroke="#dcdcdc" stroke-width="1" rx="3" fill-opacity="0.82"/>
<line x1="83.9" y1="1401" x2="118.7" y2="1401" stroke="#3f8a70" stroke-width="1.2"/>
<circle cx="101.3" cy="1401" r="3.7" fill="#3f8a70"/>
<line x1="83.9" y1="1423.2" x2="118.7" y2="1423.2" stroke="#3f8a70" stroke-width="1.5" stroke-dasharray="5.5 2.5"/>
<rect x="83.9" y="1439.3" width="34.8" height="11.9" fill="#7ea596"/>
<rect x="83.9" y="1462.2" width="34.8" height="11.9" fill="#b4c9c0"/>
<text x="132.5" y="1406.2" font-size="15.6" fill="#111" font-family='"Liberation Serif", "Times New Roman", serif'>Actual</text>
<text x="132.5" y="1428.8" font-size="15.6" fill="#111" font-family='"Liberation Serif", "Times New Roman", serif'>Forecast</text>
<text x="132.5" y="1450.9" font-size="15.6" fill="#111" font-family='"Liberation Serif", "Times New Roman", serif'>80% CI</text>
<text x="132.5" y="1473.8" font-size="15.6" fill="#111" font-family='"Liberation Serif", "Times New Roman", serif'>95% CI</text>
<text x="63.6" y="1355.5" font-size="31.3" font-weight="bold" fill="#231815" textLength="365.4" lengthAdjust="spacingAndGlyphs">Policy scenario forecast</text>
<text x="55.8" y="1398.6" font-size="30" text-anchor="end" fill="#231815">1.2</text>
<text x="55.8" y="1455" font-size="30" text-anchor="end" fill="#231815">0.8</text>
<text x="55.8" y="1511.1" font-size="30" text-anchor="end" fill="#231815">0.4</text>
<text x="45.3" y="1563.1" font-size="30" text-anchor="end" fill="#231815">0</text>
<text x="56.4" y="1583" font-size="29.6" fill="#231815" textLength="56.6" lengthAdjust="spacingAndGlyphs">2004</text>
<text x="156.1" y="1583" font-size="29.6" fill="#231815" textLength="56.6" lengthAdjust="spacingAndGlyphs">2012</text>
<text x="261.3" y="1583" font-size="29.6" fill="#231815" textLength="56.6" lengthAdjust="spacingAndGlyphs">2020</text>
<text x="361.3" y="1583" font-size="29.6" fill="#231815" textLength="56.6" lengthAdjust="spacingAndGlyphs">2028</text>
<line x1="83.9" y1="1658.3" x2="83.9" y2="1828.4" stroke="#adadad" stroke-width="1.5"/>
<line x1="133.8" y1="1658.3" x2="133.8" y2="1828.4" stroke="#adadad" stroke-width="1.5"/>
<line x1="183.4" y1="1658.3" x2="183.4" y2="1828.4" stroke="#adadad" stroke-width="1.5"/>
<line x1="233.2" y1="1658.3" x2="233.2" y2="1828.4" stroke="#adadad" stroke-width="1.5"/>
<line x1="283.1" y1="1658.3" x2="283.1" y2="1828.4" stroke="#adadad" stroke-width="1.5"/>
<line x1="333" y1="1658.3" x2="333" y2="1828.4" stroke="#adadad" stroke-width="1.5"/>
<line x1="383.1" y1="1658.3" x2="383.1" y2="1828.4" stroke="#adadad" stroke-width="1.5"/>
<line x1="68.3" y1="1673.9" x2="426" y2="1673.9" stroke="#adadad" stroke-width="1.5"/>
<line x1="68.3" y1="1719.1" x2="426" y2="1719.1" stroke="#adadad" stroke-width="1.5"/>
<line x1="68.3" y1="1773.6" x2="426" y2="1773.6" stroke="#adadad" stroke-width="1.5"/>
<path d="M83.9 1820.77 L96.36 1820.77 L108.82 1820.77 L121.28 1820.77 L133.74 1820.62 L146.2 1820.62 L158.66 1816.88 L171.12 1816.88 L183.58 1816.45 L196.04 1815.73 L208.5 1815.16 L220.96 1814.72 L233.42 1813.57 L245.88 1813.43 L258.34 1813.86 L270.8 1812.57 L283.26 1810.55 L295.72 1810.55 L308.18 1809.4 L320.64 1806.9 L333.1 1797.3 L333.1 1802.5 L320.64 1812.1 L308.18 1814.6 L295.72 1815.75 L283.26 1815.75 L270.8 1817.77 L258.34 1819.06 L245.88 1818.63 L233.42 1818.77 L220.96 1819.92 L208.5 1820.36 L196.04 1820.93 L183.58 1821.65 L171.12 1822.08 L158.66 1822.08 L146.2 1825.82 L133.74 1825.82 L121.28 1825.97 L108.82 1825.97 L96.36 1825.97 L83.9 1825.97 Z" fill="#c5d1e3"/>
<path d="M333.1 1799.9 L345.75 1787.82 L358.4 1770.44 L371.05 1752.07 L383.7 1733.28 L396.35 1714.2 L409 1694.9 L409 1784.3 L396.35 1786.89 L383.7 1789.17 L371.05 1791.02 L358.4 1792.17 L345.75 1791.02 L333.1 1799.9 Z" fill="#c5d1e3"/>
<path d="M333.1 1799.9 L345.75 1788.46 L358.4 1775.85 L371.05 1763.25 L383.7 1750.65 L396.35 1738.04 L409 1725.44 L409 1749.36 L396.35 1757.56 L383.7 1765.77 L371.05 1773.97 L358.4 1782.17 L345.75 1790.38 L333.1 1799.9 Z" fill="#8aa6c9"/>
<path d="M83.9 1823.37 L96.36 1823.37 L108.82 1823.37 L121.28 1823.37 L133.74 1823.22 L146.2 1823.22 L158.66 1819.48 L171.12 1819.48 L183.58 1819.05 L196.04 1818.33 L208.5 1817.76 L220.96 1817.32 L233.42 1816.17 L245.88 1816.03 L258.34 1816.46 L270.8 1815.17 L283.26 1813.15 L295.72 1813.15 L308.18 1812 L320.64 1809.5 L333.1 1799.9" fill="none" stroke="#3c77b1" stroke-width="1.9" stroke-linejoin="round"/>
<circle cx="83.9" cy="1823.37" r="2.3" fill="#3c77b1"/>
<circle cx="96.36" cy="1823.37" r="2.3" fill="#3c77b1"/>
<circle cx="108.82" cy="1823.37" r="2.3" fill="#3c77b1"/>
<circle cx="121.28" cy="1823.37" r="2.3" fill="#3c77b1"/>
<circle cx="133.74" cy="1823.22" r="2.3" fill="#3c77b1"/>
<circle cx="146.2" cy="1823.22" r="2.3" fill="#3c77b1"/>
<circle cx="158.66" cy="1819.48" r="2.3" fill="#3c77b1"/>
<circle cx="171.12" cy="1819.48" r="2.3" fill="#3c77b1"/>
<circle cx="183.58" cy="1819.05" r="2.3" fill="#3c77b1"/>
<circle cx="196.04" cy="1818.33" r="2.3" fill="#3c77b1"/>
<circle cx="208.5" cy="1817.76" r="2.3" fill="#3c77b1"/>
<circle cx="220.96" cy="1817.32" r="2.3" fill="#3c77b1"/>
<circle cx="233.42" cy="1816.17" r="2.3" fill="#3c77b1"/>
<circle cx="245.88" cy="1816.03" r="2.3" fill="#3c77b1"/>
<circle cx="258.34" cy="1816.46" r="2.3" fill="#3c77b1"/>
<circle cx="270.8" cy="1815.17" r="2.3" fill="#3c77b1"/>
<circle cx="283.26" cy="1813.15" r="2.3" fill="#3c77b1"/>
<circle cx="295.72" cy="1813.15" r="2.3" fill="#3c77b1"/>
<circle cx="308.18" cy="1812" r="2.3" fill="#3c77b1"/>
<circle cx="320.64" cy="1809.5" r="2.3" fill="#3c77b1"/>
<circle cx="333.1" cy="1799.9" r="2.3" fill="#3c77b1"/>
<rect x="68.3" y="1658.3" width="357.7" height="170.1" fill="none" stroke="#231815" stroke-width="1.7"/>
<line x1="83.9" y1="1828.4" x2="83.9" y2="1831.4" stroke="#231815" stroke-width="1"/>
<line x1="133.8" y1="1828.4" x2="133.8" y2="1831.4" stroke="#231815" stroke-width="1"/>
<line x1="183.4" y1="1828.4" x2="183.4" y2="1831.4" stroke="#231815" stroke-width="1"/>
<line x1="233.2" y1="1828.4" x2="233.2" y2="1831.4" stroke="#231815" stroke-width="1"/>
<line x1="283.1" y1="1828.4" x2="283.1" y2="1831.4" stroke="#231815" stroke-width="1"/>
<line x1="333" y1="1828.4" x2="333" y2="1831.4" stroke="#231815" stroke-width="1"/>
<line x1="383.1" y1="1828.4" x2="383.1" y2="1831.4" stroke="#231815" stroke-width="1"/>
<line x1="409" y1="1657.3" x2="409" y2="1828.4" stroke="#a9233d" stroke-width="2.4" stroke-dasharray="7 3.5"/>
<text x="364.7" y="1822.8" font-size="17.6" font-weight="bold" fill="#e50f23" textLength="39.7" lengthAdjust="spacingAndGlyphs">2030</text>
<rect x="82.6" y="1664" width="116.1" height="94.3" fill="#fff" stroke="#dcdcdc" stroke-width="1" rx="3" fill-opacity="0.82"/>
<line x1="89.1" y1="1676.2" x2="122.6" y2="1676.2" stroke="#3c77b1" stroke-width="1.2"/>
<circle cx="105.85" cy="1676.2" r="3.7" fill="#3c77b1"/>
<line x1="89.1" y1="1698.2" x2="122.6" y2="1698.2" stroke="#3c77b1" stroke-width="1.5" stroke-dasharray="5.5 2.5"/>
<rect x="89.1" y="1714.8" width="33.5" height="11.9" fill="#8aa6c9"/>
<rect x="89.1" y="1737.4" width="33.5" height="11.9" fill="#c5d1e3"/>
<text x="136.4" y="1681.4" font-size="15.6" fill="#111" font-family='"Liberation Serif", "Times New Roman", serif'>Actual</text>
<text x="136.4" y="1703.8" font-size="15.6" fill="#111" font-family='"Liberation Serif", "Times New Roman", serif'>Forecast</text>
<text x="136.4" y="1726.4" font-size="15.6" fill="#111" font-family='"Liberation Serif", "Times New Roman", serif'>80% CI</text>
<text x="136.4" y="1749" font-size="15.6" fill="#111" font-family='"Liberation Serif", "Times New Roman", serif'>95% CI</text>
<text x="24.7" y="1635.4" font-size="31.3" font-weight="bold" fill="#231815" textLength="441.2" lengthAdjust="spacingAndGlyphs">Technology scenario forecast</text>
<text x="58.9" y="1673.3" font-size="30" text-anchor="end" fill="#231815">1.2</text>
<text x="58.9" y="1729.7" font-size="30" text-anchor="end" fill="#231815">0.8</text>
<text x="58.9" y="1785.6" font-size="30" text-anchor="end" fill="#231815">0.4</text>
<text x="50.2" y="1838.3" font-size="30" text-anchor="end" fill="#231815">0</text>
<text x="69.1" y="1856.2" font-size="29.6" fill="#231815" textLength="56.6" lengthAdjust="spacingAndGlyphs">2004</text>
<text x="160" y="1856.2" font-size="29.6" fill="#231815" textLength="56.6" lengthAdjust="spacingAndGlyphs">2012</text>
<text x="264.7" y="1856.2" font-size="29.6" fill="#231815" textLength="56.6" lengthAdjust="spacingAndGlyphs">2020</text>
<text x="364.7" y="1856.2" font-size="29.6" fill="#231815" textLength="56.6" lengthAdjust="spacingAndGlyphs">2028</text>
<line x1="85.7" y1="1928" x2="85.7" y2="2108.8" stroke="#adadad" stroke-width="1.5"/>
<line x1="134.3" y1="1928" x2="134.3" y2="2108.8" stroke="#adadad" stroke-width="1.5"/>
<line x1="183.6" y1="1928" x2="183.6" y2="2108.8" stroke="#adadad" stroke-width="1.5"/>
<line x1="233" y1="1928" x2="233" y2="2108.8" stroke="#adadad" stroke-width="1.5"/>
<line x1="281.8" y1="1928" x2="281.8" y2="2108.8" stroke="#adadad" stroke-width="1.5"/>
<line x1="332" y1="1928" x2="332" y2="2108.8" stroke="#adadad" stroke-width="1.5"/>
<line x1="381" y1="1928" x2="381" y2="2108.8" stroke="#adadad" stroke-width="1.5"/>
<line x1="68.1" y1="1947" x2="428.6" y2="1947" stroke="#adadad" stroke-width="1.5"/>
<line x1="68.1" y1="1991.7" x2="428.6" y2="1991.7" stroke="#adadad" stroke-width="1.5"/>
<line x1="68.1" y1="2048.8" x2="428.6" y2="2048.8" stroke="#adadad" stroke-width="1.5"/>
<path d="M84.9 2100.95 L97.45 2100.95 L110 2100.95 L122.55 2100.95 L135.1 2100.8 L147.65 2100.8 L160.2 2096.9 L172.75 2096.9 L185.3 2096.45 L197.85 2095.7 L210.4 2095.1 L222.95 2094.65 L235.5 2093.45 L248.05 2093.3 L260.6 2093.75 L273.15 2092.4 L285.7 2090.3 L298.25 2090.3 L310.8 2089.1 L323.35 2087.3 L335.9 2078.7 L335.9 2083.9 L323.35 2092.5 L310.8 2094.3 L298.25 2095.5 L285.7 2095.5 L273.15 2097.6 L260.6 2098.95 L248.05 2098.5 L235.5 2098.65 L222.95 2099.85 L210.4 2100.3 L197.85 2100.9 L185.3 2101.65 L172.75 2102.1 L160.2 2102.1 L147.65 2106 L135.1 2106 L122.55 2106.15 L110 2106.15 L97.45 2106.15 L84.9 2106.15 Z" fill="#dcb9b9"/>
<path d="M335.9 2081.3 L348.5 2070.3 L361.1 2052.6 L373.7 2034.9 L386.3 2017.2 L398.9 1999.5 L411.5 1981.8 L411.5 2062.9 L398.9 2062.83 L386.3 2063.56 L373.7 2065.27 L361.1 2068.24 L348.5 2073.5 L335.9 2081.3 Z" fill="#dcb9b9"/>
<path d="M335.9 2081.3 L348.5 2070.94 L361.1 2059.2 L373.7 2047.46 L386.3 2035.72 L398.9 2023.98 L411.5 2012.24 L411.5 2040.16 L398.9 2046.7 L386.3 2053.24 L373.7 2059.78 L361.1 2066.32 L348.5 2072.86 L335.9 2081.3 Z" fill="#c08186"/>
<path d="M84.9 2103.55 L97.45 2103.55 L110 2103.55 L122.55 2103.55 L135.1 2103.4 L147.65 2103.4 L160.2 2099.5 L172.75 2099.5 L185.3 2099.05 L197.85 2098.3 L210.4 2097.7 L222.95 2097.25 L235.5 2096.05 L248.05 2095.9 L260.6 2096.35 L273.15 2095 L285.7 2092.9 L298.25 2092.9 L310.8 2091.7 L323.35 2089.9 L335.9 2081.3" fill="none" stroke="#a9334c" stroke-width="1.9" stroke-linejoin="round"/>
<line x1="335.9" y1="2081.3" x2="411.5" y2="2024.9" stroke="#a9334c" stroke-width="1.5" stroke-dasharray="6 3"/>
<circle cx="84.9" cy="2103.55" r="2.3" fill="#a9334c"/>
<circle cx="97.45" cy="2103.55" r="2.3" fill="#a9334c"/>
<circle cx="110" cy="2103.55" r="2.3" fill="#a9334c"/>
<circle cx="122.55" cy="2103.55" r="2.3" fill="#a9334c"/>
<circle cx="135.1" cy="2103.4" r="2.3" fill="#a9334c"/>
<circle cx="147.65" cy="2103.4" r="2.3" fill="#a9334c"/>
<circle cx="160.2" cy="2099.5" r="2.3" fill="#a9334c"/>
<circle cx="172.75" cy="2099.5" r="2.3" fill="#a9334c"/>
<circle cx="185.3" cy="2099.05" r="2.3" fill="#a9334c"/>
<circle cx="197.85" cy="2098.3" r="2.3" fill="#a9334c"/>
<circle cx="210.4" cy="2097.7" r="2.3" fill="#a9334c"/>
<circle cx="222.95" cy="2097.25" r="2.3" fill="#a9334c"/>
<circle cx="235.5" cy="2096.05" r="2.3" fill="#a9334c"/>
<circle cx="248.05" cy="2095.9" r="2.3" fill="#a9334c"/>
<circle cx="260.6" cy="2096.35" r="2.3" fill="#a9334c"/>
<circle cx="273.15" cy="2095" r="2.3" fill="#a9334c"/>
<circle cx="285.7" cy="2092.9" r="2.3" fill="#a9334c"/>
<circle cx="298.25" cy="2092.9" r="2.3" fill="#a9334c"/>
<circle cx="310.8" cy="2091.7" r="2.3" fill="#a9334c"/>
<circle cx="323.35" cy="2089.9" r="2.3" fill="#a9334c"/>
<circle cx="335.9" cy="2081.3" r="2.3" fill="#a9334c"/>
<rect x="68.1" y="1928" width="360.5" height="180.8" fill="none" stroke="#231815" stroke-width="1.7"/>
<line x1="413" y1="1927" x2="413" y2="2108.8" stroke="#a9233d" stroke-width="2.4" stroke-dasharray="7 3.5"/>
<text x="371.1" y="2101.9" font-size="17.6" font-weight="bold" fill="#e50f23" textLength="41.1" lengthAdjust="spacingAndGlyphs">2030</text>
<rect x="83.6" y="1936.6" width="115.9" height="98.7" fill="#fff" stroke="#dcdcdc" stroke-width="1" rx="3" fill-opacity="0.82"/>
<line x1="90.1" y1="1949.6" x2="124.2" y2="1949.6" stroke="#a9334c" stroke-width="1.2"/>
<circle cx="107.15" cy="1949.6" r="3.7" fill="#a9334c"/>
<line x1="90.1" y1="1972.6" x2="124.2" y2="1972.6" stroke="#a9334c" stroke-width="1.5" stroke-dasharray="5.5 2.5"/>
<rect x="90.1" y="1990" width="34.1" height="11.9" fill="#c08186"/>
<rect x="90.1" y="2013.3" width="34.1" height="11.9" fill="#dcb9b9"/>
<text x="137.7" y="1954.8" font-size="15.6" fill="#111" font-family='"Liberation Serif", "Times New Roman", serif'>Actual</text>
<text x="137.7" y="1978.2" font-size="15.6" fill="#111" font-family='"Liberation Serif", "Times New Roman", serif'>Forecast</text>
<text x="137.7" y="2001.6" font-size="15.6" fill="#111" font-family='"Liberation Serif", "Times New Roman", serif'>80% CI</text>
<text x="137.7" y="2024.9" font-size="15.6" fill="#111" font-family='"Liberation Serif", "Times New Roman", serif'>95% CI</text>
<text x="80.5" y="1908" font-size="31.3" font-weight="bold" fill="#231815" textLength="329.5" lengthAdjust="spacingAndGlyphs">Cost scenario forecast</text>
<text x="55.8" y="1949.8" font-size="30" text-anchor="end" fill="#231815">1.2</text>
<text x="55.8" y="2007" font-size="30" text-anchor="end" fill="#231815">0.8</text>
<text x="55.8" y="2062.8" font-size="30" text-anchor="end" fill="#231815">0.4</text>
<text x="45.3" y="2114.8" font-size="30" text-anchor="end" fill="#231815">0</text>
<text x="58.7" y="2139.5" font-size="29.6" fill="#231815" textLength="56.6" lengthAdjust="spacingAndGlyphs">2004</text>
<text x="157.2" y="2139.5" font-size="29.6" fill="#231815" textLength="56.6" lengthAdjust="spacingAndGlyphs">2012</text>
<text x="259.5" y="2139.5" font-size="29.6" fill="#231815" textLength="56.6" lengthAdjust="spacingAndGlyphs">2020</text>
<text x="358.7" y="2139.5" font-size="29.6" fill="#231815" textLength="56.6" lengthAdjust="spacingAndGlyphs">2028</text>
<line x1="641" y1="1377.8" x2="641" y2="2091.9" stroke="#b4b4b4" stroke-width="1.3"/>
<line x1="792.7" y1="1377.8" x2="792.7" y2="2091.9" stroke="#b4b4b4" stroke-width="1.3"/>
<line x1="958.6" y1="1377.8" x2="958.6" y2="2091.9" stroke="#b4b4b4" stroke-width="1.3"/>
<line x1="1117.7" y1="1377.8" x2="1117.7" y2="2091.9" stroke="#b4b4b4" stroke-width="1.3"/>
<line x1="1276.1" y1="1377.8" x2="1276.1" y2="2091.9" stroke="#b4b4b4" stroke-width="1.3"/>
<line x1="1435.1" y1="1377.8" x2="1435.1" y2="2091.9" stroke="#b4b4b4" stroke-width="1.3"/>
<line x1="1593.6" y1="1377.8" x2="1593.6" y2="2091.9" stroke="#b4b4b4" stroke-width="1.3"/>
<line x1="590.3" y1="1932.9" x2="1725.4" y2="1932.9" stroke="#b4b4b4" stroke-width="1.3"/>
<line x1="590.3" y1="1773.9" x2="1725.4" y2="1773.9" stroke="#b4b4b4" stroke-width="1.3"/>
<line x1="590.3" y1="1614.9" x2="1725.4" y2="1614.9" stroke="#b4b4b4" stroke-width="1.3"/>
<line x1="590.3" y1="1455.9" x2="1725.4" y2="1455.9" stroke="#b4b4b4" stroke-width="1.3"/>
<path d="M641.1 2068.22 L680.79 2065.51 L720.48 2065.51 L760.17 2063.15 L799.86 2062.33 L839.55 2060.2 L879.24 2056.43 L918.93 2057.25 L958.62 2054.3 L998.31 2052.54 L1038 2048.17 L1077.69 2048.41 L1117.38 2043.69 L1157.07 2040.74 L1196.76 2037.79 L1236.45 2035.43 L1276.14 2033.66 L1315.83 2027.76 L1355.52 2026 L1395.21 2023.05 L1434.9 1992.97 L1474.59 1957.2 L1514.28 1911.3 L1553.97 1859.7 L1593.66 1800.5 L1633.35 1739.4 L1673.04 1678.2 L1673.04 1931.4 L1633.35 1926.6 L1593.66 1935.8 L1553.97 1937.1 L1514.28 1953.3 L1474.59 1978.2 L1434.9 2008.97 L1395.21 2039.05 L1355.52 2042 L1315.83 2043.76 L1276.14 2049.66 L1236.45 2051.43 L1196.76 2053.79 L1157.07 2056.74 L1117.38 2059.69 L1077.69 2064.41 L1038 2064.17 L998.31 2068.54 L958.62 2070.3 L918.93 2073.25 L879.24 2072.43 L839.55 2076.2 L799.86 2078.33 L760.17 2079.15 L720.48 2081.51 L680.79 2081.51 L641.1 2084.22 Z" fill="#f4e1cc"/>
<path d="M641.1 2072.22 L680.79 2069.51 L720.48 2069.51 L760.17 2067.15 L799.86 2066.33 L839.55 2064.2 L879.24 2060.43 L918.93 2061.25 L958.62 2058.3 L998.31 2056.54 L1038 2052.17 L1077.69 2052.41 L1117.38 2047.69 L1157.07 2044.74 L1196.76 2041.79 L1236.45 2039.43 L1276.14 2037.66 L1315.83 2031.76 L1355.52 2030 L1395.21 2027.05 L1434.9 1996.97 L1474.59 1967.7 L1514.28 1933.3 L1553.97 1897 L1593.66 1859.7 L1633.35 1823.4 L1673.04 1787.1 L1673.04 1862.6 L1633.35 1876.9 L1593.66 1897 L1553.97 1919 L1514.28 1945.7 L1474.59 1975.3 L1434.9 2005.97 L1395.21 2036.05 L1355.52 2039 L1315.83 2040.76 L1276.14 2046.66 L1236.45 2048.43 L1196.76 2050.79 L1157.07 2053.74 L1117.38 2056.69 L1077.69 2061.41 L1038 2061.17 L998.31 2065.54 L958.62 2067.3 L918.93 2070.25 L879.24 2069.43 L839.55 2073.2 L799.86 2075.33 L760.17 2076.15 L720.48 2078.51 L680.79 2078.51 L641.1 2081.22 Z" fill="#e8bd8b"/>
<path d="M641.1 2073.05 L680.79 2070.69 L720.48 2070.1 L760.17 2068.33 L799.86 2067.74 L839.55 2065.97 L879.24 2061.84 L918.93 2063.02 L958.62 2060.07 L998.31 2058.3 L1038 2055.95 L1077.69 2054.77 L1117.38 2053 L1157.07 2050.64 L1196.76 2048.28 L1236.45 2047.69 L1276.14 2044.74 L1315.83 2047.69 L1355.52 2042.38 L1395.21 2034.71 L1434.9 2017.02 L1474.59 2012.6 L1514.28 1993.5 L1553.97 1978.2 L1593.66 1950.5 L1633.35 1924.7 L1673.04 1896 L1673.04 2004.9 L1633.35 2004.9 L1593.66 2000.1 L1553.97 2004 L1514.28 2008.5 L1474.59 2022.5 L1434.9 2033.02 L1395.21 2050.71 L1355.52 2058.38 L1315.83 2063.69 L1276.14 2060.74 L1236.45 2063.69 L1196.76 2064.28 L1157.07 2066.64 L1117.38 2069 L1077.69 2070.77 L1038 2071.95 L998.31 2074.3 L958.62 2076.07 L918.93 2079.02 L879.24 2077.84 L839.55 2081.97 L799.86 2083.74 L760.17 2084.33 L720.48 2086.1 L680.79 2086.69 L641.1 2089.05 Z" fill="#c4c0d9" fill-opacity="0.92"/>
<path d="M641.1 2076.55 L680.79 2074.19 L720.48 2073.6 L760.17 2071.83 L799.86 2071.24 L839.55 2069.47 L879.24 2065.34 L918.93 2066.52 L958.62 2063.57 L998.31 2061.8 L1038 2059.45 L1077.69 2058.27 L1117.38 2056.5 L1157.07 2054.14 L1196.76 2051.78 L1236.45 2051.19 L1276.14 2048.24 L1315.83 2051.19 L1355.52 2045.88 L1395.21 2038.21 L1434.9 2020.52 L1474.59 2011.8 L1514.28 1997.4 L1553.97 1990.2 L1593.66 1973.5 L1633.35 1966.8 L1673.04 1953.5 L1673.04 1964.7 L1633.35 1978 L1593.66 1984.7 L1553.97 2001.4 L1514.28 2008.6 L1474.59 2023 L1434.9 2029.52 L1395.21 2047.21 L1355.52 2054.88 L1315.83 2060.19 L1276.14 2057.24 L1236.45 2060.19 L1196.76 2060.78 L1157.07 2063.14 L1117.38 2065.5 L1077.69 2067.27 L1038 2068.45 L998.31 2070.8 L958.62 2072.57 L918.93 2075.52 L879.24 2074.34 L839.55 2078.47 L799.86 2080.24 L760.17 2080.83 L720.48 2082.6 L680.79 2083.19 L641.1 2085.55 Z" fill="#a29bc1" fill-opacity="0.95"/>
<line x1="590.3" y1="1456.6" x2="1725.4" y2="1456.6" stroke="#c2314c" stroke-width="2" stroke-dasharray="8 3.5"/>
<line x1="590.3" y1="1704.5" x2="1725.4" y2="1704.5" stroke="#cf8f7b" stroke-width="2.4" stroke-dasharray="7.5 3.5"/>
<line x1="590.3" y1="1890.8" x2="1725.4" y2="1890.8" stroke="#8c70aa" stroke-width="2.2" stroke-dasharray="7.5 3.5"/>
<path d="M641.1 2076.92 L680.79 2076.92 L720.48 2076.92 L760.17 2076.92 L799.86 2076.68 L839.55 2076.33 L879.24 2066.89 L918.93 2067.13 L958.62 2066.89 L998.31 2062.53 L1038 2054.74 L1077.69 2059.46 L1117.38 2058.05 L1157.07 2056.28 L1196.76 2050.38 L1236.45 2047.43 L1276.14 2048.38 L1315.83 2040.59 L1355.52 2034.22 L1395.21 2030.56 L1434.9 2004.73" fill="none" stroke="#d9954a" stroke-width="1.2"/>
<path d="M641.1 2080.22 L680.79 2077.51 L720.48 2077.51 L760.17 2075.15 L799.86 2074.33 L839.55 2072.2 L879.24 2068.43 L918.93 2069.25 L958.62 2066.3 L998.31 2064.54 L1038 2060.17 L1077.69 2060.41 L1117.38 2055.69 L1157.07 2052.74 L1196.76 2049.79 L1236.45 2047.43 L1276.14 2045.66 L1315.83 2039.76 L1355.52 2038 L1395.21 2035.05 L1434.9 2004.97 L1474.59 1971.7 L1514.28 1940 L1553.97 1908.6 L1593.66 1877.9 L1633.35 1846.3 L1673.04 1814.8" fill="none" stroke="#d9954a" stroke-width="4" stroke-dasharray="4.4 1.8"/>
<path d="M641.1 2077.51 L680.79 2077.51 L720.48 2077.51 L760.17 2077.39 L799.86 2077.16 L839.55 2077.16 L879.24 2068.07 L918.93 2068.66 L958.62 2068.07 L998.31 2065.12 L1038 2062.53 L1077.69 2061.59 L1117.38 2060.41 L1157.07 2058.99 L1196.76 2059.82 L1236.45 2057.46 L1276.14 2050.73 L1315.83 2050.97 L1355.52 2049.79 L1395.21 2047.08 L1434.9 2023.49" fill="none" stroke="#6f63a1" stroke-width="1"/>
<path d="M641.1 2081.05 L680.79 2078.69 L720.48 2078.1 L760.17 2076.33 L799.86 2075.74 L839.55 2073.97 L879.24 2069.84 L918.93 2071.02 L958.62 2068.07 L998.31 2066.3 L1038 2063.95 L1077.69 2062.77 L1117.38 2061 L1157.07 2058.64 L1196.76 2056.28 L1236.45 2055.69 L1276.14 2052.74 L1315.83 2055.69 L1355.52 2050.38 L1395.21 2042.71 L1434.9 2025.02 L1474.59 2017.4 L1514.28 2003 L1553.97 1995.8 L1593.66 1979.1 L1633.35 1972.4 L1673.04 1959.1" fill="none" stroke="#6f63a1" stroke-width="1.5" stroke-dasharray="8 4"/>
<ellipse cx="642.3" cy="2075.42" rx="5.7" ry="7.3" fill="#d9954a"/>
<ellipse cx="681.99" cy="2075.42" rx="5.7" ry="7.3" fill="#d9954a"/>
<ellipse cx="721.68" cy="2075.42" rx="5.7" ry="7.3" fill="#d9954a"/>
<ellipse cx="761.37" cy="2075.42" rx="5.7" ry="7.3" fill="#d9954a"/>
<ellipse cx="801.06" cy="2075.18" rx="5.7" ry="7.3" fill="#d9954a"/>
<ellipse cx="840.75" cy="2074.83" rx="5.7" ry="7.3" fill="#d9954a"/>
<ellipse cx="880.44" cy="2065.39" rx="5.7" ry="7.3" fill="#d9954a"/>
<ellipse cx="920.13" cy="2065.63" rx="5.7" ry="7.3" fill="#d9954a"/>
<ellipse cx="959.82" cy="2065.39" rx="5.7" ry="7.3" fill="#d9954a"/>
<ellipse cx="999.51" cy="2061.03" rx="5.7" ry="7.3" fill="#d9954a"/>
<ellipse cx="1039.2" cy="2053.24" rx="5.7" ry="7.3" fill="#d9954a"/>
<ellipse cx="1078.89" cy="2057.96" rx="5.7" ry="7.3" fill="#d9954a"/>
<ellipse cx="1118.58" cy="2056.55" rx="5.7" ry="7.3" fill="#d9954a"/>
<ellipse cx="1158.27" cy="2054.78" rx="5.7" ry="7.3" fill="#d9954a"/>
<ellipse cx="1197.96" cy="2048.88" rx="5.7" ry="7.3" fill="#d9954a"/>
<ellipse cx="1237.65" cy="2045.93" rx="5.7" ry="7.3" fill="#d9954a"/>
<ellipse cx="1277.34" cy="2046.88" rx="5.7" ry="7.3" fill="#d9954a"/>
<ellipse cx="1317.03" cy="2039.09" rx="5.7" ry="7.3" fill="#d9954a"/>
<ellipse cx="1356.72" cy="2032.72" rx="5.7" ry="7.3" fill="#d9954a"/>
<ellipse cx="1396.41" cy="2029.06" rx="5.7" ry="7.3" fill="#d9954a"/>
<ellipse cx="1436.1" cy="2003.23" rx="5.7" ry="7.3" fill="#d9954a"/>
<ellipse cx="641.1" cy="2079.01" rx="5.7" ry="7.5" fill="#6f63a1"/>
<ellipse cx="680.79" cy="2079.01" rx="5.7" ry="7.5" fill="#6f63a1"/>
<ellipse cx="720.48" cy="2079.01" rx="5.7" ry="7.5" fill="#6f63a1"/>
<ellipse cx="760.17" cy="2078.89" rx="5.7" ry="7.5" fill="#6f63a1"/>
<ellipse cx="799.86" cy="2078.66" rx="5.7" ry="7.5" fill="#6f63a1"/>
<ellipse cx="839.55" cy="2078.66" rx="5.7" ry="7.5" fill="#6f63a1"/>
<ellipse cx="879.24" cy="2069.57" rx="5.7" ry="7.5" fill="#6f63a1"/>
<ellipse cx="918.93" cy="2070.16" rx="5.7" ry="7.5" fill="#6f63a1"/>
<ellipse cx="958.62" cy="2069.57" rx="5.7" ry="7.5" fill="#6f63a1"/>
<ellipse cx="998.31" cy="2066.62" rx="5.7" ry="7.5" fill="#6f63a1"/>
<ellipse cx="1038" cy="2064.03" rx="5.7" ry="7.5" fill="#6f63a1"/>
<ellipse cx="1077.69" cy="2063.09" rx="5.7" ry="7.5" fill="#6f63a1"/>
<ellipse cx="1117.38" cy="2061.91" rx="5.7" ry="7.5" fill="#6f63a1"/>
<ellipse cx="1157.07" cy="2060.49" rx="5.7" ry="7.5" fill="#6f63a1"/>
<ellipse cx="1196.76" cy="2061.32" rx="5.7" ry="7.5" fill="#6f63a1"/>
<ellipse cx="1236.45" cy="2058.96" rx="5.7" ry="7.5" fill="#6f63a1"/>
<ellipse cx="1276.14" cy="2052.23" rx="5.7" ry="7.5" fill="#6f63a1"/>
<ellipse cx="1315.83" cy="2052.47" rx="5.7" ry="7.5" fill="#6f63a1"/>
<ellipse cx="1355.52" cy="2051.29" rx="5.7" ry="7.5" fill="#6f63a1"/>
<ellipse cx="1395.21" cy="2048.58" rx="5.7" ry="7.5" fill="#6f63a1"/>
<ellipse cx="1434.9" cy="2024.99" rx="5.7" ry="7.5" fill="#6f63a1"/>
<line x1="1672.04" y1="1379.8" x2="1672.04" y2="2091.9" stroke="#a9233d" stroke-width="2.3" stroke-dasharray="8 4"/>
<text x="1605.4" y="2072.9" font-size="29" font-weight="bold" fill="#e50f23" textLength="53.2" lengthAdjust="spacingAndGlyphs">2030</text>
<line x1="590.3" y1="1379.8" x2="1725.4" y2="1379.8" stroke="#231815" stroke-width="1.8"/>
<line x1="590.3" y1="1378.8" x2="590.3" y2="2093.4" stroke="#231815" stroke-width="3"/>
<line x1="1725.4" y1="1378.8" x2="1725.4" y2="2093.4" stroke="#231815" stroke-width="3"/>
<line x1="582.3" y1="2091.9" x2="1725.4" y2="2091.9" stroke="#231815" stroke-width="3"/>
<line x1="792.7" y1="2091.9" x2="792.7" y2="2100.4" stroke="#231815" stroke-width="1.5"/>
<line x1="958.6" y1="2091.9" x2="958.6" y2="2100.4" stroke="#231815" stroke-width="1.5"/>
<line x1="1117.7" y1="2091.9" x2="1117.7" y2="2100.4" stroke="#231815" stroke-width="1.5"/>
<line x1="1276.1" y1="2091.9" x2="1276.1" y2="2100.4" stroke="#231815" stroke-width="1.5"/>
<line x1="1435.1" y1="2091.9" x2="1435.1" y2="2100.4" stroke="#231815" stroke-width="1.5"/>
<line x1="1593.6" y1="2091.9" x2="1593.6" y2="2100.4" stroke="#231815" stroke-width="1.5"/>
<line x1="583.3" y1="1932.9" x2="590.3" y2="1932.9" stroke="#231815" stroke-width="1.3"/>
<line x1="583.3" y1="1773.9" x2="590.3" y2="1773.9" stroke="#231815" stroke-width="1.3"/>
<line x1="583.3" y1="1614.9" x2="590.3" y2="1614.9" stroke="#231815" stroke-width="1.3"/>
<line x1="583.3" y1="1455.9" x2="590.3" y2="1455.9" stroke="#231815" stroke-width="1.3"/>
<rect x="881.4" y="1622" width="461.6" height="310" fill="#fff"/>
<line x1="912.6" y1="1628.6" x2="912.6" y2="1923.5" stroke="#cfcfcf" stroke-width="1"/>
<line x1="988.6" y1="1628.6" x2="988.6" y2="1923.5" stroke="#cfcfcf" stroke-width="1"/>
<line x1="1064.6" y1="1628.6" x2="1064.6" y2="1923.5" stroke="#cfcfcf" stroke-width="1"/>
<line x1="1140.6" y1="1628.6" x2="1140.6" y2="1923.5" stroke="#cfcfcf" stroke-width="1"/>
<line x1="1216.5" y1="1628.6" x2="1216.5" y2="1923.5" stroke="#cfcfcf" stroke-width="1"/>
<line x1="1291.3" y1="1628.6" x2="1291.3" y2="1923.5" stroke="#cfcfcf" stroke-width="1"/>
<line x1="889.3" y1="1678.3" x2="1323.2" y2="1678.3" stroke="#cfcfcf" stroke-width="1"/>
<line x1="889.3" y1="1775.3" x2="1323.2" y2="1775.3" stroke="#cfcfcf" stroke-width="1"/>
<line x1="889.3" y1="1825" x2="1323.2" y2="1825" stroke="#cfcfcf" stroke-width="1"/>
<svg x="889.3" y="1627.6" width="433.9" height="295.9" viewBox="889.3 1627.6 433.9 295.9" overflow="hidden">
<path d="M912.63 1887.83 L931.62 1881.98 L950.62 1880.52 L969.61 1876.14 L988.6 1874.68 L1007.6 1870.29 L1026.59 1860.07 L1045.59 1862.99 L1064.58 1855.68 L1082.99 1851.3 L1101.4 1845.46 L1121.85 1842.53 L1140.55 1838.15 L1158.96 1832.31 L1177.96 1826.46 L1196.95 1825 L1215.94 1817.7 L1234.94 1825 L1253.35 1811.85 L1272.34 1792.86 L1291.33 1749.03 L1310.91 1734.42 L1323.19 1708.12 L1323.19 1726.23 L1310.91 1752.53 L1291.33 1767.14 L1272.34 1810.98 L1253.35 1829.97 L1234.94 1843.12 L1215.94 1835.81 L1196.95 1843.12 L1177.96 1844.58 L1158.96 1850.42 L1140.55 1856.27 L1121.85 1860.65 L1101.4 1863.57 L1082.99 1869.42 L1064.58 1873.8 L1045.59 1881.11 L1026.59 1878.18 L1007.6 1888.41 L988.6 1892.79 L969.61 1894.26 L950.62 1898.64 L931.62 1900.1 L912.63 1905.94 Z" fill="#c4c0d9" fill-opacity="0.95"/>
<path d="M912.63 1891.63 L931.62 1885.78 L950.62 1884.32 L969.61 1879.94 L988.6 1878.48 L1007.6 1874.09 L1026.59 1863.87 L1045.59 1866.79 L1064.58 1859.48 L1082.99 1855.1 L1101.4 1849.25 L1121.85 1846.33 L1140.55 1841.95 L1158.96 1836.11 L1177.96 1830.26 L1196.95 1828.8 L1215.94 1821.49 L1234.94 1828.8 L1253.35 1815.65 L1272.34 1796.66 L1291.33 1752.83 L1310.91 1738.22 L1323.19 1711.92 L1323.19 1722.14 L1310.91 1748.44 L1291.33 1763.05 L1272.34 1806.88 L1253.35 1825.88 L1234.94 1839.03 L1215.94 1831.72 L1196.95 1839.03 L1177.96 1840.49 L1158.96 1846.33 L1140.55 1852.18 L1121.85 1856.56 L1101.4 1859.48 L1082.99 1865.33 L1064.58 1869.71 L1045.59 1877.01 L1026.59 1874.09 L1007.6 1884.32 L988.6 1888.7 L969.61 1890.16 L950.62 1894.55 L931.62 1896.01 L912.63 1901.85 Z" fill="#a29bc1" fill-opacity="0.95"/>
<path d="M912.63 1882.27 L931.62 1875.55 L950.62 1875.55 L969.61 1869.71 L988.6 1867.66 L1007.6 1862.4 L1026.59 1853.05 L1045.59 1855.1 L1064.58 1847.79 L1082.99 1843.41 L1101.4 1832.6 L1121.85 1833.18 L1140.55 1821.49 L1158.96 1814.19 L1177.96 1806.88 L1196.95 1801.04 L1215.94 1796.66 L1234.94 1782.05 L1253.35 1777.66 L1272.34 1770.36 L1291.33 1695.84 L1302.15 1656.4 L1313.83 1614.03 L1313.83 1632.73 L1302.15 1675.1 L1291.33 1714.55 L1272.34 1789.06 L1253.35 1796.36 L1234.94 1800.75 L1215.94 1815.36 L1196.95 1819.74 L1177.96 1825.59 L1158.96 1832.89 L1140.55 1840.2 L1121.85 1851.88 L1101.4 1851.3 L1082.99 1862.11 L1064.58 1866.5 L1045.59 1873.8 L1026.59 1871.76 L1007.6 1881.11 L988.6 1886.37 L969.61 1888.41 L950.62 1894.26 L931.62 1894.26 L912.63 1900.98 Z" fill="#ecc9a0" fill-opacity="0.85"/>
<path d="M912.63 1885.78 L931.62 1879.06 L950.62 1879.06 L969.61 1873.22 L988.6 1871.17 L1007.6 1865.91 L1026.59 1856.56 L1045.59 1858.61 L1064.58 1851.3 L1082.99 1846.92 L1101.4 1836.11 L1121.85 1836.69 L1140.55 1825 L1158.96 1817.7 L1177.96 1810.39 L1196.95 1804.55 L1215.94 1800.16 L1234.94 1785.55 L1253.35 1781.17 L1272.34 1773.86 L1291.33 1699.35 L1302.15 1659.9 L1313.83 1617.53 L1313.83 1629.81 L1302.15 1672.18 L1291.33 1711.62 L1272.34 1786.14 L1253.35 1793.44 L1234.94 1797.83 L1215.94 1812.44 L1196.95 1816.82 L1177.96 1822.66 L1158.96 1829.97 L1140.55 1837.27 L1121.85 1848.96 L1101.4 1848.38 L1082.99 1859.19 L1064.58 1863.57 L1045.59 1870.88 L1026.59 1868.83 L1007.6 1878.18 L988.6 1883.44 L969.61 1885.49 L950.62 1891.33 L931.62 1891.33 L912.63 1898.05 Z" fill="#dfae78" fill-opacity="0.8"/>
<path d="M912.63 1887.83 L931.62 1887.83 L950.62 1887.83 L969.61 1887.53 L988.6 1886.95 L1007.6 1886.95 L1026.59 1864.45 L1045.59 1865.91 L1064.58 1864.45 L1082.99 1857.14 L1101.4 1850.72 L1121.85 1848.38 L1140.55 1845.46 L1158.96 1841.95 L1177.96 1844 L1196.95 1838.15 L1215.94 1821.49 L1234.94 1822.08 L1253.35 1819.16 L1272.34 1812.44 L1291.33 1753.99" fill="none" stroke="#6f63a1" stroke-width="0.9"/>
<path d="M912.63 1896.59 L931.62 1890.75 L950.62 1889.29 L969.61 1884.9 L988.6 1883.44 L1007.6 1879.06 L1026.59 1868.83 L1045.59 1871.76 L1064.58 1864.45 L1082.99 1860.07 L1101.4 1854.22 L1121.85 1851.3 L1140.55 1846.92 L1158.96 1841.07 L1177.96 1835.23 L1196.95 1833.77 L1215.94 1826.46 L1234.94 1833.77 L1253.35 1820.62 L1272.34 1801.62 L1291.33 1757.79 L1310.91 1743.18 L1323.19 1716.88" fill="none" stroke="#6f63a1" stroke-width="1.6" stroke-dasharray="6 3"/>
<path d="M912.63 1886.37 L931.62 1886.37 L950.62 1886.37 L969.61 1886.37 L988.6 1885.78 L1007.6 1884.9 L1026.59 1861.53 L1045.59 1862.11 L1064.58 1861.53 L1082.99 1850.72 L1101.4 1831.43 L1121.85 1843.12 L1140.55 1839.61 L1158.96 1835.23 L1177.96 1820.62 L1196.95 1813.31 L1215.94 1815.65 L1234.94 1796.36 L1253.35 1780.59 L1272.34 1771.53 L1291.33 1707.53" fill="none" stroke="#d9954a" stroke-width="0.9"/>
<path d="M912.63 1894.55 L931.62 1887.83 L950.62 1887.83 L969.61 1881.98 L988.6 1879.94 L1007.6 1874.68 L1026.59 1865.33 L1045.59 1867.37 L1064.58 1860.07 L1082.99 1855.68 L1101.4 1844.87 L1121.85 1845.46 L1140.55 1833.77 L1158.96 1826.46 L1177.96 1819.16 L1196.95 1813.31 L1215.94 1808.93 L1234.94 1794.32 L1253.35 1789.94 L1272.34 1782.63 L1291.33 1708.12 L1302.15 1668.67 L1313.83 1626.3" fill="none" stroke="#d9954a" stroke-width="2" stroke-dasharray="5 2"/>
<circle cx="912.63" cy="1887.83" r="2.4" fill="#6f63a1"/>
<circle cx="931.62" cy="1887.83" r="2.4" fill="#6f63a1"/>
<circle cx="950.62" cy="1887.83" r="2.4" fill="#6f63a1"/>
<circle cx="969.61" cy="1887.53" r="2.4" fill="#6f63a1"/>
<circle cx="988.6" cy="1886.95" r="2.4" fill="#6f63a1"/>
<circle cx="1007.6" cy="1886.95" r="2.4" fill="#6f63a1"/>
<circle cx="1026.59" cy="1864.45" r="2.4" fill="#6f63a1"/>
<circle cx="1045.59" cy="1865.91" r="2.4" fill="#6f63a1"/>
<circle cx="1064.58" cy="1864.45" r="2.4" fill="#6f63a1"/>
<circle cx="1082.99" cy="1857.14" r="2.4" fill="#6f63a1"/>
<circle cx="1101.4" cy="1850.72" r="2.4" fill="#6f63a1"/>
<circle cx="1121.85" cy="1848.38" r="2.4" fill="#6f63a1"/>
<circle cx="1140.55" cy="1845.46" r="2.4" fill="#6f63a1"/>
<circle cx="1158.96" cy="1841.95" r="2.4" fill="#6f63a1"/>
<circle cx="1177.96" cy="1844" r="2.4" fill="#6f63a1"/>
<circle cx="1196.95" cy="1838.15" r="2.4" fill="#6f63a1"/>
<circle cx="1215.94" cy="1821.49" r="2.4" fill="#6f63a1"/>
<circle cx="1234.94" cy="1822.08" r="2.4" fill="#6f63a1"/>
<circle cx="1253.35" cy="1819.16" r="2.4" fill="#6f63a1"/>
<circle cx="1272.34" cy="1812.44" r="2.4" fill="#6f63a1"/>
<circle cx="1291.33" cy="1753.99" r="2.4" fill="#6f63a1"/>
<circle cx="912.63" cy="1886.37" r="2.5" fill="#d9954a"/>
<circle cx="931.62" cy="1886.37" r="2.5" fill="#d9954a"/>
<circle cx="950.62" cy="1886.37" r="2.5" fill="#d9954a"/>
<circle cx="969.61" cy="1886.37" r="2.5" fill="#d9954a"/>
<circle cx="988.6" cy="1885.78" r="2.5" fill="#d9954a"/>
<circle cx="1007.6" cy="1884.9" r="2.5" fill="#d9954a"/>
<circle cx="1026.59" cy="1861.53" r="2.5" fill="#d9954a"/>
<circle cx="1045.59" cy="1862.11" r="2.5" fill="#d9954a"/>
<circle cx="1064.58" cy="1861.53" r="2.5" fill="#d9954a"/>
<circle cx="1082.99" cy="1850.72" r="2.5" fill="#d9954a"/>
<circle cx="1101.4" cy="1831.43" r="2.5" fill="#d9954a"/>
<circle cx="1121.85" cy="1843.12" r="2.5" fill="#d9954a"/>
<circle cx="1140.55" cy="1839.61" r="2.5" fill="#d9954a"/>
<circle cx="1158.96" cy="1835.23" r="2.5" fill="#d9954a"/>
<circle cx="1177.96" cy="1820.62" r="2.5" fill="#d9954a"/>
<circle cx="1196.95" cy="1813.31" r="2.5" fill="#d9954a"/>
<circle cx="1215.94" cy="1815.65" r="2.5" fill="#d9954a"/>
<circle cx="1234.94" cy="1796.36" r="2.5" fill="#d9954a"/>
<circle cx="1253.35" cy="1780.59" r="2.5" fill="#d9954a"/>
<circle cx="1272.34" cy="1771.53" r="2.5" fill="#d9954a"/>
<circle cx="1291.33" cy="1707.53" r="2.5" fill="#d9954a"/>
</svg>
<rect x="889.3" y="1628.6" width="433.9" height="294.9" fill="none" stroke="#231815" stroke-width="1.3"/>
<line x1="912.6" y1="1923.5" x2="912.6" y2="1926.5" stroke="#231815" stroke-width="1"/>
<line x1="988.6" y1="1923.5" x2="988.6" y2="1926.5" stroke="#231815" stroke-width="1"/>
<line x1="1064.6" y1="1923.5" x2="1064.6" y2="1926.5" stroke="#231815" stroke-width="1"/>
<line x1="1140.6" y1="1923.5" x2="1140.6" y2="1926.5" stroke="#231815" stroke-width="1"/>
<line x1="1216.5" y1="1923.5" x2="1216.5" y2="1926.5" stroke="#231815" stroke-width="1"/>
<line x1="1291.3" y1="1923.5" x2="1291.3" y2="1926.5" stroke="#231815" stroke-width="1"/>
<text x="827.8" y="1676.1" font-size="27.5" font-weight="bold" fill="#231815" textLength="39" lengthAdjust="spacingAndGlyphs">2.5</text>
<text x="827.8" y="1724.2" font-size="27.5" font-weight="bold" fill="#231815" textLength="39" lengthAdjust="spacingAndGlyphs">2.0</text>
<text x="827.8" y="1775.6" font-size="27.5" font-weight="bold" fill="#231815" textLength="39" lengthAdjust="spacingAndGlyphs">1.5</text>
<text x="827.8" y="1829.1" font-size="27.5" font-weight="bold" fill="#231815" textLength="39" lengthAdjust="spacingAndGlyphs">1.0</text>
<text x="827.8" y="1878.4" font-size="27.5" font-weight="bold" fill="#231815" textLength="39" lengthAdjust="spacingAndGlyphs">0.5</text>
<text x="838.5" y="1935.2" font-size="27.5" font-weight="bold" fill="#231815">0</text>
<text x="889.5" y="1961.3" font-size="30.5" font-weight="bold" fill="#231815" textLength="57.5" lengthAdjust="spacingAndGlyphs">2004</text>
<text x="958.1" y="1961.3" font-size="30.5" font-weight="bold" fill="#231815" textLength="57.5" lengthAdjust="spacingAndGlyphs">2008</text>
<text x="1034.2" y="1961.3" font-size="30.5" font-weight="bold" fill="#231815" textLength="57.5" lengthAdjust="spacingAndGlyphs">2012</text>
<text x="1111.5" y="1961.3" font-size="30.5" font-weight="bold" fill="#231815" textLength="57.5" lengthAdjust="spacingAndGlyphs">2016</text>
<text x="1183.5" y="1961.3" font-size="30.5" font-weight="bold" fill="#231815" textLength="57.5" lengthAdjust="spacingAndGlyphs">2020</text>
<text x="1260.9" y="1961.3" font-size="30.5" font-weight="bold" fill="#231815" textLength="57.5" lengthAdjust="spacingAndGlyphs">2024</text>
<text x="853.7" y="1601.8" font-size="29.4" font-weight="bold" fill="#231815" textLength="502" lengthAdjust="spacingAndGlyphs">Development scale from 2014 to 2024</text>
<rect x="617.2" y="1393.6" width="117.2" height="118.5" fill="#fff" stroke="#dedede" stroke-width="1" rx="3" fill-opacity="0.72"/>
<line x1="623" y1="1408.7" x2="657" y2="1408.7" stroke="#d9954a" stroke-width="1.1"/>
<circle cx="640.3" cy="1408.7" r="4.1" fill="#d9954a"/>
<line x1="623" y1="1437.9" x2="657" y2="1437.9" stroke="#d9954a" stroke-width="1.4" stroke-dasharray="5.5 2.5"/>
<rect x="623" y="1459.4" width="34.6" height="13.8" fill="#e8bd8b"/>
<rect x="623" y="1487.4" width="34.6" height="13.8" fill="#f4e1cc"/>
<text x="662.5" y="1416.7" font-size="17.5" font-weight="bold" fill="#111" font-family='"Liberation Serif", "Times New Roman", serif' textLength="63.3" lengthAdjust="spacingAndGlyphs">All change</text>
<text x="670.7" y="1444.2" font-size="20" fill="#111" font-family='"Liberation Serif", "Times New Roman", serif' textLength="56.3" lengthAdjust="spacingAndGlyphs">Forecast</text>
<text x="670.7" y="1473" font-size="20" fill="#111" font-family='"Liberation Serif", "Times New Roman", serif' textLength="51" lengthAdjust="spacingAndGlyphs">80% CI</text>
<text x="670.7" y="1501" font-size="20" fill="#111" font-family='"Liberation Serif", "Times New Roman", serif' textLength="51" lengthAdjust="spacingAndGlyphs">95% CI</text>
<rect x="617.2" y="1504.7" width="117.2" height="119.2" fill="#fff" stroke="#dedede" stroke-width="1" rx="3" fill-opacity="0.72"/>
<line x1="623" y1="1519.5" x2="657" y2="1519.5" stroke="#6f63a1" stroke-width="1.1"/>
<circle cx="640.3" cy="1519.5" r="4.1" fill="#6f63a1"/>
<line x1="623" y1="1549" x2="657" y2="1549" stroke="#6f63a1" stroke-width="1.4" stroke-dasharray="5.5 2.5"/>
<rect x="623" y="1569.6" width="34.6" height="13.8" fill="#a29bc1"/>
<rect x="623" y="1598" width="34.6" height="13.8" fill="#c4c0d9"/>
<text x="673.6" y="1528.5" font-size="17.5" font-weight="bold" fill="#111" font-family='"Liberation Serif", "Times New Roman", serif' textLength="48.1" lengthAdjust="spacingAndGlyphs">History</text>
<text x="670.7" y="1555.3" font-size="20" fill="#111" font-family='"Liberation Serif", "Times New Roman", serif' textLength="56.3" lengthAdjust="spacingAndGlyphs">Forecast</text>
<text x="670.7" y="1583.2" font-size="20" fill="#111" font-family='"Liberation Serif", "Times New Roman", serif' textLength="51" lengthAdjust="spacingAndGlyphs">80% CI</text>
<text x="670.7" y="1611.6" font-size="20" fill="#111" font-family='"Liberation Serif", "Times New Roman", serif' textLength="51" lengthAdjust="spacingAndGlyphs">95% CI</text>
<text x="546.9" y="1370.3" font-size="37" font-weight="bold" fill="#231815" textLength="33.8" lengthAdjust="spacingAndGlyphs">Gt</text>
<text x="836.6" y="1351.7" font-size="36.3" font-weight="bold" fill="#231815" textLength="657.5" lengthAdjust="spacingAndGlyphs">Historical and counterfactual scenario</text>
<text x="526.5" y="1464.6" font-size="37.5" fill="#231815" textLength="48.5" lengthAdjust="spacingAndGlyphs">1.6</text>
<text x="526.5" y="1623.8" font-size="37.5" fill="#231815" textLength="48.5" lengthAdjust="spacingAndGlyphs">1.2</text>
<text x="526.5" y="1778" font-size="37.5" fill="#231815" textLength="48.5" lengthAdjust="spacingAndGlyphs">0.8</text>
<text x="526.5" y="1937.6" font-size="37.5" fill="#231815" textLength="48.5" lengthAdjust="spacingAndGlyphs">0.4</text>
<text x="547.6" y="2087.6" font-size="37.5" fill="#231815" textLength="18.5" lengthAdjust="spacingAndGlyphs">0</text>
<text x="604.1" y="2134.2" font-size="36" fill="#231815" textLength="75.6" lengthAdjust="spacingAndGlyphs">2004</text>
<text x="755.4" y="2134.55" font-size="36" fill="#231815" textLength="75.6" lengthAdjust="spacingAndGlyphs">2008</text>
<text x="920.8" y="2134.93" font-size="36" fill="#231815" textLength="75.6" lengthAdjust="spacingAndGlyphs">2012</text>
<text x="1079.9" y="2135.29" font-size="36" fill="#231815" textLength="75.6" lengthAdjust="spacingAndGlyphs">2016</text>
<text x="1238.2" y="2135.65" font-size="36" fill="#231815" textLength="75.6" lengthAdjust="spacingAndGlyphs">2020</text>
<text x="1396" y="2136.01" font-size="36" fill="#231815" textLength="75.6" lengthAdjust="spacingAndGlyphs">2024</text>
<text x="1554.6" y="2136.38" font-size="36" fill="#231815" textLength="75.6" lengthAdjust="spacingAndGlyphs">2028</text>
<text x="1695.4" y="2136.7" font-size="36" fill="#231815" textLength="75.6" lengthAdjust="spacingAndGlyphs">2032</text>
<text x="509" y="1710" font-size="30.2" text-anchor="middle" fill="#231815" transform="rotate(-90 509 1710)">CCUS scale</text>
<text x="1755" y="1451.4" font-size="30" font-weight="bold" fill="#c5183c" textLength="223.6" lengthAdjust="spacingAndGlyphs" xml:space="preserve" style="white-space:pre">IEA  climate target</text>
<text x="1833.3" y="1502" font-size="30" font-weight="bold" fill="#c5183c" textLength="73.3" lengthAdjust="spacingAndGlyphs">1.6 Gt</text>
<text x="1738.6" y="1668" font-size="30" font-weight="bold" fill="#e95b29" textLength="246.2" lengthAdjust="spacingAndGlyphs">All change scenario</text>
<text x="1835.3" y="1722.8" font-size="30" font-weight="bold" fill="#e95b29" textLength="72.1" lengthAdjust="spacingAndGlyphs">1.1 Gt</text>
<text x="1753.8" y="1879" font-size="30" font-weight="bold" fill="#723385" textLength="235.9" lengthAdjust="spacingAndGlyphs">Historical scenario</text>
<text x="1835.3" y="1927" font-size="30" font-weight="bold" fill="#723385" textLength="72.1" lengthAdjust="spacingAndGlyphs">0.5 Gt</text>
</svg>
</body></html>
